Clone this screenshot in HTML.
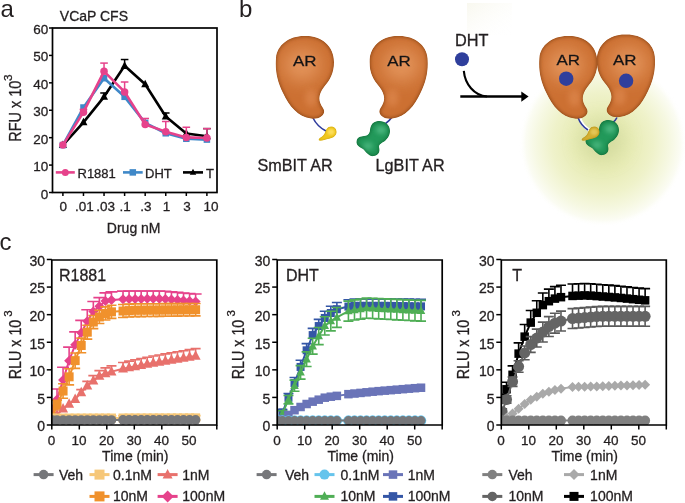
<!DOCTYPE html><html><head><meta charset="utf-8"><style>html,body{margin:0;padding:0;background:#fff;}svg{display:block;will-change:transform;}text{font-family:"Liberation Sans",sans-serif;stroke:#231f20;stroke-width:0.3px;}</style></head><body>
<svg width="685" height="503" viewBox="0 0 685 503">
<defs><radialGradient id="glow" cx="603" cy="143" r="84" gradientUnits="userSpaceOnUse"><stop offset="0" stop-color="#e0e4a4"/><stop offset="0.35" stop-color="#e8ecb6"/><stop offset="0.6" stop-color="#eff2ca"/><stop offset="0.8" stop-color="#f6f8e2"/><stop offset="0.92" stop-color="#fbfcf3"/><stop offset="1" stop-color="#ffffff" stop-opacity="0"/></radialGradient><radialGradient id="arg" cx="0.45" cy="0.35" r="0.7"><stop offset="0" stop-color="#f0a56e"/><stop offset="0.45" stop-color="#e08545"/><stop offset="0.85" stop-color="#c86a2c"/><stop offset="1" stop-color="#a9541c"/></radialGradient><radialGradient id="grg" cx="0.5" cy="0.45" r="0.6"><stop offset="0" stop-color="#5cc08a"/><stop offset="0.6" stop-color="#2e9e5e"/><stop offset="1" stop-color="#16703c"/></radialGradient><radialGradient id="yeg" cx="0.55" cy="0.4" r="0.65"><stop offset="0" stop-color="#ffe35a"/><stop offset="0.7" stop-color="#e8be1e"/><stop offset="1" stop-color="#b88c10"/></radialGradient></defs>
<text x="0.50" y="17.00" font-size="24" text-anchor="start" fill="#231f20" style="stroke-width:0">a</text>
<text x="239.00" y="17.00" font-size="24" text-anchor="start" fill="#231f20" style="stroke-width:0">b</text>
<text x="-0.50" y="250.20" font-size="24" text-anchor="start" fill="#231f20" style="stroke-width:0">c</text>
<rect x="52.5" y="28.0" width="164.5" height="164.5" fill="none" stroke="#000" stroke-width="1.7"/>
<line x1="49.0" y1="192.50" x2="52.5" y2="192.50" stroke="#000" stroke-width="1.5"/>
<text x="48.20" y="198.50" font-size="13.5" text-anchor="end" fill="#231f20" >0</text>
<line x1="49.0" y1="165.08" x2="52.5" y2="165.08" stroke="#000" stroke-width="1.5"/>
<text x="48.20" y="171.08" font-size="13.5" text-anchor="end" fill="#231f20" >10</text>
<line x1="49.0" y1="137.67" x2="52.5" y2="137.67" stroke="#000" stroke-width="1.5"/>
<text x="48.20" y="143.67" font-size="13.5" text-anchor="end" fill="#231f20" >20</text>
<line x1="49.0" y1="110.25" x2="52.5" y2="110.25" stroke="#000" stroke-width="1.5"/>
<text x="48.20" y="116.25" font-size="13.5" text-anchor="end" fill="#231f20" >30</text>
<line x1="49.0" y1="82.83" x2="52.5" y2="82.83" stroke="#000" stroke-width="1.5"/>
<text x="48.20" y="88.83" font-size="13.5" text-anchor="end" fill="#231f20" >40</text>
<line x1="49.0" y1="55.42" x2="52.5" y2="55.42" stroke="#000" stroke-width="1.5"/>
<text x="48.20" y="61.42" font-size="13.5" text-anchor="end" fill="#231f20" >50</text>
<line x1="49.0" y1="28.00" x2="52.5" y2="28.00" stroke="#000" stroke-width="1.5"/>
<text x="48.20" y="34.00" font-size="13.5" text-anchor="end" fill="#231f20" >60</text>
<line x1="62.90" y1="192.5" x2="62.90" y2="196.0" stroke="#000" stroke-width="1.5"/>
<text x="63.20" y="210.50" font-size="13.5" text-anchor="middle" fill="#231f20" >0</text>
<line x1="83.47" y1="192.5" x2="83.47" y2="196.0" stroke="#000" stroke-width="1.5"/>
<text x="84.40" y="210.50" font-size="13.5" text-anchor="middle" fill="#231f20" >.01</text>
<line x1="104.04" y1="192.5" x2="104.04" y2="196.0" stroke="#000" stroke-width="1.5"/>
<text x="105.70" y="210.50" font-size="13.5" text-anchor="middle" fill="#231f20" >.03</text>
<line x1="124.61" y1="192.5" x2="124.61" y2="196.0" stroke="#000" stroke-width="1.5"/>
<text x="125.10" y="210.50" font-size="13.5" text-anchor="middle" fill="#231f20" >.1</text>
<line x1="145.18" y1="192.5" x2="145.18" y2="196.0" stroke="#000" stroke-width="1.5"/>
<text x="145.80" y="210.50" font-size="13.5" text-anchor="middle" fill="#231f20" >.3</text>
<line x1="165.75" y1="192.5" x2="165.75" y2="196.0" stroke="#000" stroke-width="1.5"/>
<text x="166.50" y="210.50" font-size="13.5" text-anchor="middle" fill="#231f20" >1</text>
<line x1="186.32" y1="192.5" x2="186.32" y2="196.0" stroke="#000" stroke-width="1.5"/>
<text x="186.90" y="210.50" font-size="13.5" text-anchor="middle" fill="#231f20" >3</text>
<line x1="206.89" y1="192.5" x2="206.89" y2="196.0" stroke="#000" stroke-width="1.5"/>
<text x="211.00" y="210.50" font-size="13.5" text-anchor="middle" fill="#231f20" >10</text>
<text x="133.70" y="233.30" font-size="14" text-anchor="middle" fill="#231f20" >Drug nM</text>
<text x="59.80" y="21.20" font-size="14" text-anchor="start" fill="#231f20" >VCaP CFS</text>
<text transform="translate(21,141.8) rotate(-90)" x="0" y="0" font-size="16.5" fill="#231f20" textLength="61" lengthAdjust="spacingAndGlyphs">RFU x 10</text>
<text transform="translate(11.9,80.9) rotate(-90)" x="0" y="0" font-size="11.8" fill="#231f20">3</text>
<line x1="104.04" y1="96.82" x2="104.04" y2="92.98" stroke="#000" stroke-width="1.5"/>
<line x1="100.24" y1="92.98" x2="107.84" y2="92.98" stroke="#000" stroke-width="1.5"/>
<line x1="124.61" y1="65.83" x2="124.61" y2="59.53" stroke="#000" stroke-width="1.5"/>
<line x1="120.81" y1="59.53" x2="128.41" y2="59.53" stroke="#000" stroke-width="1.5"/>
<line x1="165.75" y1="116.56" x2="165.75" y2="112.99" stroke="#000" stroke-width="1.5"/>
<line x1="161.95" y1="112.99" x2="169.55" y2="112.99" stroke="#000" stroke-width="1.5"/>
<line x1="206.89" y1="136.30" x2="206.89" y2="128.62" stroke="#000" stroke-width="1.5"/>
<line x1="203.09" y1="128.62" x2="210.69" y2="128.62" stroke="#000" stroke-width="1.5"/>
<polyline points="62.90,145.07 83.47,122.31 104.04,96.82 124.61,65.83 145.18,84.20 165.75,116.56 186.32,133.55 206.89,136.30" fill="none" stroke="#000" stroke-width="2.6" stroke-linejoin="round"/>
<path d="M62.90,140.51L66.90,148.11L58.90,148.11Z" fill="#000"/>
<path d="M83.47,117.75L87.47,125.35L79.47,125.35Z" fill="#000"/>
<path d="M104.04,92.26L108.04,99.86L100.04,99.86Z" fill="#000"/>
<path d="M124.61,61.27L128.61,68.88L120.61,68.88Z" fill="#000"/>
<path d="M145.18,79.64L149.18,87.24L141.18,87.24Z" fill="#000"/>
<path d="M165.75,112.00L169.75,119.60L161.75,119.60Z" fill="#000"/>
<path d="M186.32,128.99L190.32,136.59L182.32,136.59Z" fill="#000"/>
<path d="M206.89,131.74L210.89,139.34L202.89,139.34Z" fill="#000"/>
<polyline points="62.90,145.07 83.47,107.51 104.04,78.17 124.61,96.82 145.18,122.86 165.75,133.28 186.32,138.76 206.89,139.59" fill="none" stroke="#3f88c8" stroke-width="2.6" stroke-linejoin="round"/>
<rect x="59.65" y="141.82" width="6.50" height="6.50" fill="#3f88c8"/>
<rect x="80.22" y="104.26" width="6.50" height="6.50" fill="#3f88c8"/>
<rect x="100.79" y="74.92" width="6.50" height="6.50" fill="#3f88c8"/>
<rect x="121.36" y="93.57" width="6.50" height="6.50" fill="#3f88c8"/>
<rect x="141.93" y="119.61" width="6.50" height="6.50" fill="#3f88c8"/>
<rect x="162.50" y="130.03" width="6.50" height="6.50" fill="#3f88c8"/>
<rect x="183.07" y="135.51" width="6.50" height="6.50" fill="#3f88c8"/>
<rect x="203.64" y="136.34" width="6.50" height="6.50" fill="#3f88c8"/>
<line x1="83.47" y1="112.17" x2="83.47" y2="109.43" stroke="#e6428b" stroke-width="1.5"/>
<line x1="79.67" y1="109.43" x2="87.27" y2="109.43" stroke="#e6428b" stroke-width="1.5"/>
<line x1="104.04" y1="71.32" x2="104.04" y2="63.09" stroke="#e6428b" stroke-width="1.5"/>
<line x1="100.24" y1="63.09" x2="107.84" y2="63.09" stroke="#e6428b" stroke-width="1.5"/>
<line x1="124.61" y1="91.88" x2="124.61" y2="82.01" stroke="#e6428b" stroke-width="1.5"/>
<line x1="120.81" y1="82.01" x2="128.41" y2="82.01" stroke="#e6428b" stroke-width="1.5"/>
<line x1="145.18" y1="124.51" x2="145.18" y2="118.47" stroke="#e6428b" stroke-width="1.5"/>
<line x1="141.38" y1="118.47" x2="148.98" y2="118.47" stroke="#e6428b" stroke-width="1.5"/>
<line x1="165.75" y1="131.63" x2="165.75" y2="121.49" stroke="#e6428b" stroke-width="1.5"/>
<line x1="161.95" y1="121.49" x2="169.55" y2="121.49" stroke="#e6428b" stroke-width="1.5"/>
<line x1="186.32" y1="137.39" x2="186.32" y2="127.25" stroke="#e6428b" stroke-width="1.5"/>
<line x1="182.52" y1="127.25" x2="190.12" y2="127.25" stroke="#e6428b" stroke-width="1.5"/>
<line x1="206.89" y1="137.94" x2="206.89" y2="128.62" stroke="#e6428b" stroke-width="1.5"/>
<line x1="203.09" y1="128.62" x2="210.69" y2="128.62" stroke="#e6428b" stroke-width="1.5"/>
<polyline points="62.90,145.07 83.47,112.17 104.04,71.32 124.61,91.88 145.18,124.51 165.75,131.63 186.32,137.39 206.89,137.94" fill="none" stroke="#e6428b" stroke-width="2.6" stroke-linejoin="round"/>
<circle cx="62.90" cy="145.07" r="3.75" fill="#e6428b"/>
<circle cx="83.47" cy="112.17" r="3.75" fill="#e6428b"/>
<circle cx="104.04" cy="71.32" r="3.75" fill="#e6428b"/>
<circle cx="124.61" cy="91.88" r="3.75" fill="#e6428b"/>
<circle cx="145.18" cy="124.51" r="3.75" fill="#e6428b"/>
<circle cx="165.75" cy="131.63" r="3.75" fill="#e6428b"/>
<circle cx="186.32" cy="137.39" r="3.75" fill="#e6428b"/>
<circle cx="206.89" cy="137.94" r="3.75" fill="#e6428b"/>
<line x1="55.8" y1="172.4" x2="74.8" y2="172.4" stroke="#e6428b" stroke-width="2.6"/>
<circle cx="65.30" cy="172.40" r="3.50" fill="#e6428b"/>
<text x="77.50" y="177.60" font-size="13" text-anchor="start" fill="#231f20" >R1881</text>
<line x1="123" y1="172.4" x2="142.7" y2="172.4" stroke="#3f88c8" stroke-width="2.6"/>
<rect x="129.55" y="169.15" width="6.50" height="6.50" fill="#3f88c8"/>
<text x="145.00" y="177.60" font-size="13" text-anchor="start" fill="#231f20" >DHT</text>
<line x1="183" y1="172.4" x2="203" y2="172.4" stroke="#000" stroke-width="2.6"/>
<path d="M193.00,168.69L196.25,174.87L189.75,174.87Z" fill="#000"/>
<text x="206.00" y="177.60" font-size="13" text-anchor="start" fill="#231f20" >T</text>
<defs><filter id="bl3" x="-30%" y="-30%" width="160%" height="160%"><feGaussianBlur stdDeviation="3.2"/></filter><filter id="bl2" x="-30%" y="-30%" width="160%" height="160%"><feGaussianBlur stdDeviation="2"/></filter><filter id="bl1" x="-30%" y="-30%" width="160%" height="160%"><feGaussianBlur stdDeviation="1.3"/></filter><filter id="bl6" x="-50%" y="-50%" width="200%" height="200%"><feGaussianBlur stdDeviation="9"/></filter></defs>
<rect x="440" y="0" width="245" height="250" fill="url(#glow)"/>
<defs><linearGradient id="fq" x1="0" y1="0" x2="1" y2="1"><stop offset="0" stop-color="#f4f3e4"/><stop offset="1" stop-color="#ffffff" stop-opacity="0"/></linearGradient></defs>
<rect x="467" y="3" width="45" height="32" fill="url(#fq)" opacity="0.6"/>
<ellipse cx="602" cy="140" rx="22" ry="20" fill="#c9d49a" opacity="0.55" filter="url(#bl6)"/>
<defs><clipPath id="arclip"><path d="M304,36 C320,35 334,45 334,62 C334,73 330,80 324,87 C318,95 318,101 323,108 C327,114 320,120 311,118.5 C298,117 289,106 283,93 C277,81 275,70 276,58 C277,45 289,36 304,36 Z"/></clipPath></defs>
<defs><clipPath id="grclip"><path d="M376.8,121.2 C384,120 390,124 390,131 C390,136 387,139 385,141 C382,143 379,144 379,147 C380,150 380,155 374,156 C369,157 366,152 363,149 C359,147 356,145 356.5,141.5 C357,137 360,136.5 364,136 C368,135.5 369.5,134 370,130 C370.5,126 372,122 376.8,121.2 Z"/></clipPath><clipPath id="yeclip"><path d="M331,126.5 C335.5,126.5 337,130 336.5,133 C336,136.5 332,138.5 328,139 C325,139.5 322,141.5 319,140.5 C317.5,139.5 320,137.5 322,136.5 C324,135.5 325,132 326,130 C327,127.5 329,126.5 331,126.5 Z"/></clipPath></defs>
<path d="M313,118 C316,124 320,128 326,131" fill="none" stroke="#2e3b9c" stroke-width="1.6"/>
<g transform="translate(0,0)"><g clip-path="url(#arclip)"><path d="M304,36 C320,35 334,45 334,62 C334,73 330,80 324,87 C318,95 318,101 323,108 C327,114 320,120 311,118.5 C298,117 289,106 283,93 C277,81 275,70 276,58 C277,45 289,36 304,36 Z" fill="#743608"/><path d="M304,36 C320,35 334,45 334,62 C334,73 330,80 324,87 C318,95 318,101 323,108 C327,114 320,120 311,118.5 C298,117 289,106 283,93 C277,81 275,70 276,58 C277,45 289,36 304,36 Z" fill="#cc7032" filter="url(#bl2)"/><ellipse cx="302" cy="65" rx="19" ry="17" fill="#eda46e" opacity="0.7" filter="url(#bl6)"/><ellipse cx="311" cy="98" rx="6" ry="9" fill="#e49058" opacity="0.55" filter="url(#bl3)"/></g></g>
<g transform="translate(0,0)"><g clip-path="url(#yeclip)"><path d="M331,126.5 C335.5,126.5 337,130 336.5,133 C336,136.5 332,138.5 328,139 C325,139.5 322,141.5 319,140.5 C317.5,139.5 320,137.5 322,136.5 C324,135.5 325,132 326,130 C327,127.5 329,126.5 331,126.5 Z" fill="#c09a12"/><path d="M331,126.5 C335.5,126.5 337,130 336.5,133 C336,136.5 332,138.5 328,139 C325,139.5 322,141.5 319,140.5 C317.5,139.5 320,137.5 322,136.5 C324,135.5 325,132 326,130 C327,127.5 329,126.5 331,126.5 Z" fill="#f2c81e" filter="url(#bl1)"/><ellipse cx="331" cy="132" rx="3.5" ry="3" fill="#ffe46a" opacity="0.8" filter="url(#bl1)"/></g></g>
<path d="M392,117 C390,120 388,122 385,124" fill="none" stroke="#2e3b9c" stroke-width="1.6"/>
<g transform="translate(703.5,0) scale(-1,1)"><g clip-path="url(#arclip)"><path d="M304,36 C320,35 334,45 334,62 C334,73 330,80 324,87 C318,95 318,101 323,108 C327,114 320,120 311,118.5 C298,117 289,106 283,93 C277,81 275,70 276,58 C277,45 289,36 304,36 Z" fill="#743608"/><path d="M304,36 C320,35 334,45 334,62 C334,73 330,80 324,87 C318,95 318,101 323,108 C327,114 320,120 311,118.5 C298,117 289,106 283,93 C277,81 275,70 276,58 C277,45 289,36 304,36 Z" fill="#cc7032" filter="url(#bl2)"/><ellipse cx="302" cy="65" rx="19" ry="17" fill="#eda46e" opacity="0.7" filter="url(#bl6)"/><ellipse cx="311" cy="98" rx="6" ry="9" fill="#e49058" opacity="0.55" filter="url(#bl3)"/></g></g>
<g transform="translate(0,0)"><g clip-path="url(#grclip)"><path d="M376.8,121.2 C384,120 390,124 390,131 C390,136 387,139 385,141 C382,143 379,144 379,147 C380,150 380,155 374,156 C369,157 366,152 363,149 C359,147 356,145 356.5,141.5 C357,137 360,136.5 364,136 C368,135.5 369.5,134 370,130 C370.5,126 372,122 376.8,121.2 Z" fill="#0b5f2c"/><path d="M376.8,121.2 C384,120 390,124 390,131 C390,136 387,139 385,141 C382,143 379,144 379,147 C380,150 380,155 374,156 C369,157 366,152 363,149 C359,147 356,145 356.5,141.5 C357,137 360,136.5 364,136 C368,135.5 369.5,134 370,130 C370.5,126 372,122 376.8,121.2 Z" fill="#23995a" filter="url(#bl2)"/><ellipse cx="381" cy="130" rx="5" ry="4" fill="#5cc28e" opacity="0.7" filter="url(#bl2)"/><ellipse cx="368" cy="146" rx="5" ry="4" fill="#5cc28e" opacity="0.6" filter="url(#bl2)"/></g></g>
<text x="292.90" y="66.3" font-size="15" fill="#111" textLength="23.5" lengthAdjust="spacingAndGlyphs">AR</text>
<text x="387.20" y="66.3" font-size="15" fill="#111" textLength="23.5" lengthAdjust="spacingAndGlyphs">AR</text>
<text x="257.50" y="171.40" font-size="16.2" text-anchor="start" fill="#231f20" >SmBIT AR</text>
<text x="375.60" y="171.40" font-size="16.2" text-anchor="start" fill="#231f20" >LgBIT AR</text>
<text x="455.00" y="46.40" font-size="16.3" text-anchor="start" fill="#231f20" >DHT</text>
<circle cx="462" cy="59.2" r="7" fill="#2f3f9c"/>
<path d="M463.8,70.8 C465,84 474,95.5 487,96.5" fill="none" stroke="#000" stroke-width="2.1"/>
<line x1="460.3" y1="96.5" x2="523" y2="96.5" stroke="#000" stroke-width="2.4"/>
<path d="M521.3,91.5 L528.6,96.6 L521.3,101.7 Z" fill="#000"/>
<path d="M579.5,117.5 C581,123 584,127 589,130" fill="none" stroke="#fff" stroke-width="3.2"/>
<path d="M578,117.5 C580,123 583,127 588,130" fill="none" stroke="#2e3b9c" stroke-width="1.6"/>
<path d="M617,117.5 C616,120 614,122 611,124" fill="none" stroke="#2e3b9c" stroke-width="1.6"/>
<g transform="translate(263.4,0)"><g clip-path="url(#arclip)"><path d="M304,36 C320,35 334,45 334,62 C334,73 330,80 324,87 C318,95 318,101 323,108 C327,114 320,120 311,118.5 C298,117 289,106 283,93 C277,81 275,70 276,58 C277,45 289,36 304,36 Z" fill="#743608"/><path d="M304,36 C320,35 334,45 334,62 C334,73 330,80 324,87 C318,95 318,101 323,108 C327,114 320,120 311,118.5 C298,117 289,106 283,93 C277,81 275,70 276,58 C277,45 289,36 304,36 Z" fill="#cc7032" filter="url(#bl2)"/><ellipse cx="302" cy="65" rx="19" ry="17" fill="#eda46e" opacity="0.7" filter="url(#bl6)"/><ellipse cx="311" cy="98" rx="6" ry="9" fill="#e49058" opacity="0.55" filter="url(#bl3)"/></g></g>
<g transform="translate(930.8,-1.5) scale(-1,1)"><g clip-path="url(#arclip)"><path d="M304,36 C320,35 334,45 334,62 C334,73 330,80 324,87 C318,95 318,101 323,108 C327,114 320,120 311,118.5 C298,117 289,106 283,93 C277,81 275,70 276,58 C277,45 289,36 304,36 Z" fill="#743608"/><path d="M304,36 C320,35 334,45 334,62 C334,73 330,80 324,87 C318,95 318,101 323,108 C327,114 320,120 311,118.5 C298,117 289,106 283,93 C277,81 275,70 276,58 C277,45 289,36 304,36 Z" fill="#cc7032" filter="url(#bl2)"/><ellipse cx="302" cy="65" rx="19" ry="17" fill="#eda46e" opacity="0.7" filter="url(#bl6)"/><ellipse cx="311" cy="98" rx="6" ry="9" fill="#e49058" opacity="0.55" filter="url(#bl3)"/></g></g>
<g transform="translate(229,-1)"><g clip-path="url(#grclip)"><path d="M376.8,121.2 C384,120 390,124 390,131 C390,136 387,139 385,141 C382,143 379,144 379,147 C380,150 380,155 374,156 C369,157 366,152 363,149 C359,147 356,145 356.5,141.5 C357,137 360,136.5 364,136 C368,135.5 369.5,134 370,130 C370.5,126 372,122 376.8,121.2 Z" fill="#0b5f2c"/><path d="M376.8,121.2 C384,120 390,124 390,131 C390,136 387,139 385,141 C382,143 379,144 379,147 C380,150 380,155 374,156 C369,157 366,152 363,149 C359,147 356,145 356.5,141.5 C357,137 360,136.5 364,136 C368,135.5 369.5,134 370,130 C370.5,126 372,122 376.8,121.2 Z" fill="#23995a" filter="url(#bl2)"/><ellipse cx="381" cy="130" rx="5" ry="4" fill="#5cc28e" opacity="0.7" filter="url(#bl2)"/><ellipse cx="368" cy="146" rx="5" ry="4" fill="#5cc28e" opacity="0.6" filter="url(#bl2)"/></g></g>
<g transform="translate(263,0)"><g clip-path="url(#yeclip)"><path d="M331,126.5 C335.5,126.5 337,130 336.5,133 C336,136.5 332,138.5 328,139 C325,139.5 322,141.5 319,140.5 C317.5,139.5 320,137.5 322,136.5 C324,135.5 325,132 326,130 C327,127.5 329,126.5 331,126.5 Z" fill="#a88410"/><path d="M331,126.5 C335.5,126.5 337,130 336.5,133 C336,136.5 332,138.5 328,139 C325,139.5 322,141.5 319,140.5 C317.5,139.5 320,137.5 322,136.5 C324,135.5 325,132 326,130 C327,127.5 329,126.5 331,126.5 Z" fill="#d4b030" filter="url(#bl1)"/><ellipse cx="331" cy="132" rx="3.5" ry="3" fill="#e8cc60" opacity="0.8" filter="url(#bl1)"/></g></g>
<text x="556.60" y="64.8" font-size="15" fill="#111" textLength="23.5" lengthAdjust="spacingAndGlyphs">AR</text>
<text x="613.00" y="64.8" font-size="15" fill="#111" textLength="23.5" lengthAdjust="spacingAndGlyphs">AR</text>
<circle cx="566.2" cy="78.7" r="7.2" fill="#2f3f9c"/>
<circle cx="626.1" cy="80.8" r="7.2" fill="#2f3f9c"/>
<clipPath id="clip51"><rect x="51.8" y="248.0" width="169.0" height="177.0"/></clipPath>
<g clip-path="url(#clip51)">
<line x1="52.62" y1="405.36" x2="52.62" y2="413.97" stroke="#e6428b" stroke-width="1.6"/>
<line x1="46.62" y1="405.36" x2="58.62" y2="405.36" stroke="#e6428b" stroke-width="1.6"/>
<line x1="57.02" y1="389.04" x2="57.02" y2="399.41" stroke="#e6428b" stroke-width="1.6"/>
<line x1="51.02" y1="389.04" x2="63.02" y2="389.04" stroke="#e6428b" stroke-width="1.6"/>
<line x1="63.07" y1="367.23" x2="63.07" y2="380.03" stroke="#e6428b" stroke-width="1.6"/>
<line x1="57.07" y1="367.23" x2="69.07" y2="367.23" stroke="#e6428b" stroke-width="1.6"/>
<line x1="69.12" y1="347.17" x2="69.12" y2="360.65" stroke="#e6428b" stroke-width="1.6"/>
<line x1="63.12" y1="347.17" x2="75.12" y2="347.17" stroke="#e6428b" stroke-width="1.6"/>
<line x1="75.17" y1="331.84" x2="75.17" y2="344.80" stroke="#e6428b" stroke-width="1.6"/>
<line x1="69.17" y1="331.84" x2="81.17" y2="331.84" stroke="#e6428b" stroke-width="1.6"/>
<line x1="81.22" y1="320.38" x2="81.22" y2="332.83" stroke="#e6428b" stroke-width="1.6"/>
<line x1="75.22" y1="320.38" x2="87.22" y2="320.38" stroke="#e6428b" stroke-width="1.6"/>
<line x1="87.28" y1="309.74" x2="87.28" y2="321.30" stroke="#e6428b" stroke-width="1.6"/>
<line x1="81.28" y1="309.74" x2="93.28" y2="309.74" stroke="#e6428b" stroke-width="1.6"/>
<line x1="93.33" y1="301.43" x2="93.33" y2="311.58" stroke="#e6428b" stroke-width="1.6"/>
<line x1="87.33" y1="301.43" x2="99.33" y2="301.43" stroke="#e6428b" stroke-width="1.6"/>
<line x1="99.38" y1="297.62" x2="99.38" y2="306.34" stroke="#e6428b" stroke-width="1.6"/>
<line x1="93.38" y1="297.62" x2="105.38" y2="297.62" stroke="#e6428b" stroke-width="1.6"/>
<line x1="105.42" y1="292.87" x2="105.42" y2="301.11" stroke="#e6428b" stroke-width="1.6"/>
<line x1="99.42" y1="292.87" x2="111.42" y2="292.87" stroke="#e6428b" stroke-width="1.6"/>
<line x1="111.47" y1="291.90" x2="111.47" y2="300.08" stroke="#e6428b" stroke-width="1.6"/>
<line x1="105.47" y1="291.90" x2="117.47" y2="291.90" stroke="#e6428b" stroke-width="1.6"/>
<line x1="123.02" y1="291.08" x2="123.02" y2="299.15" stroke="#e6428b" stroke-width="1.6"/>
<line x1="117.02" y1="291.08" x2="129.02" y2="291.08" stroke="#e6428b" stroke-width="1.6"/>
<line x1="129.07" y1="291.06" x2="129.07" y2="299.07" stroke="#e6428b" stroke-width="1.6"/>
<line x1="123.07" y1="291.06" x2="135.07" y2="291.06" stroke="#e6428b" stroke-width="1.6"/>
<line x1="135.12" y1="291.04" x2="135.12" y2="299.00" stroke="#e6428b" stroke-width="1.6"/>
<line x1="129.12" y1="291.04" x2="141.12" y2="291.04" stroke="#e6428b" stroke-width="1.6"/>
<line x1="141.18" y1="291.02" x2="141.18" y2="298.92" stroke="#e6428b" stroke-width="1.6"/>
<line x1="135.18" y1="291.02" x2="147.18" y2="291.02" stroke="#e6428b" stroke-width="1.6"/>
<line x1="147.23" y1="291.01" x2="147.23" y2="298.84" stroke="#e6428b" stroke-width="1.6"/>
<line x1="141.23" y1="291.01" x2="153.23" y2="291.01" stroke="#e6428b" stroke-width="1.6"/>
<line x1="153.27" y1="290.99" x2="153.27" y2="298.77" stroke="#e6428b" stroke-width="1.6"/>
<line x1="147.27" y1="290.99" x2="159.27" y2="290.99" stroke="#e6428b" stroke-width="1.6"/>
<line x1="159.32" y1="290.97" x2="159.32" y2="298.69" stroke="#e6428b" stroke-width="1.6"/>
<line x1="153.32" y1="290.97" x2="165.32" y2="290.97" stroke="#e6428b" stroke-width="1.6"/>
<line x1="165.38" y1="291.30" x2="165.38" y2="298.96" stroke="#e6428b" stroke-width="1.6"/>
<line x1="159.38" y1="291.30" x2="171.38" y2="291.30" stroke="#e6428b" stroke-width="1.6"/>
<line x1="171.43" y1="291.86" x2="171.43" y2="299.47" stroke="#e6428b" stroke-width="1.6"/>
<line x1="165.43" y1="291.86" x2="177.43" y2="291.86" stroke="#e6428b" stroke-width="1.6"/>
<line x1="177.48" y1="292.42" x2="177.48" y2="299.97" stroke="#e6428b" stroke-width="1.6"/>
<line x1="171.48" y1="292.42" x2="183.48" y2="292.42" stroke="#e6428b" stroke-width="1.6"/>
<line x1="183.52" y1="292.99" x2="183.52" y2="300.48" stroke="#e6428b" stroke-width="1.6"/>
<line x1="177.52" y1="292.99" x2="189.52" y2="292.99" stroke="#e6428b" stroke-width="1.6"/>
<line x1="189.57" y1="293.55" x2="189.57" y2="300.98" stroke="#e6428b" stroke-width="1.6"/>
<line x1="183.57" y1="293.55" x2="195.57" y2="293.55" stroke="#e6428b" stroke-width="1.6"/>
<line x1="195.62" y1="294.07" x2="195.62" y2="301.44" stroke="#e6428b" stroke-width="1.6"/>
<line x1="189.62" y1="294.07" x2="201.62" y2="294.07" stroke="#e6428b" stroke-width="1.6"/>
<polyline points="52.62,413.97 57.02,399.41 63.07,380.03 69.12,360.65 75.17,344.80 81.22,332.83 87.28,321.30 93.33,311.58 99.38,306.34 105.42,301.11 111.47,300.08 123.02,299.15 129.07,299.07 135.12,299.00 141.18,298.92 147.23,298.84 153.27,298.77 159.32,298.69 165.38,298.96 171.43,299.47 177.48,299.97 183.52,300.48 189.57,300.98 195.62,301.44" fill="none" stroke="#e6428b" stroke-width="2"/>
<path d="M52.62,408.97L57.62,413.97L52.62,418.97L47.62,413.97Z" fill="#e6428b"/>
<path d="M57.02,394.41L62.02,399.41L57.02,404.41L52.02,399.41Z" fill="#e6428b"/>
<path d="M63.07,375.03L68.07,380.03L63.07,385.03L58.07,380.03Z" fill="#e6428b"/>
<path d="M69.12,355.65L74.12,360.65L69.12,365.65L64.12,360.65Z" fill="#e6428b"/>
<path d="M75.17,339.80L80.17,344.80L75.17,349.80L70.17,344.80Z" fill="#e6428b"/>
<path d="M81.22,327.83L86.22,332.83L81.22,337.83L76.22,332.83Z" fill="#e6428b"/>
<path d="M87.28,316.30L92.28,321.30L87.28,326.30L82.28,321.30Z" fill="#e6428b"/>
<path d="M93.33,306.58L98.33,311.58L93.33,316.58L88.33,311.58Z" fill="#e6428b"/>
<path d="M99.38,301.34L104.38,306.34L99.38,311.34L94.38,306.34Z" fill="#e6428b"/>
<path d="M105.42,296.11L110.42,301.11L105.42,306.11L100.42,301.11Z" fill="#e6428b"/>
<path d="M111.47,295.08L116.47,300.08L111.47,305.08L106.47,300.08Z" fill="#e6428b"/>
<path d="M123.02,294.15L128.02,299.15L123.02,304.15L118.02,299.15Z" fill="#e6428b"/>
<path d="M129.07,294.07L134.07,299.07L129.07,304.07L124.07,299.07Z" fill="#e6428b"/>
<path d="M135.12,294.00L140.12,299.00L135.12,304.00L130.12,299.00Z" fill="#e6428b"/>
<path d="M141.18,293.92L146.18,298.92L141.18,303.92L136.18,298.92Z" fill="#e6428b"/>
<path d="M147.23,293.84L152.23,298.84L147.23,303.84L142.23,298.84Z" fill="#e6428b"/>
<path d="M153.27,293.77L158.27,298.77L153.27,303.77L148.27,298.77Z" fill="#e6428b"/>
<path d="M159.32,293.69L164.32,298.69L159.32,303.69L154.32,298.69Z" fill="#e6428b"/>
<path d="M165.38,293.96L170.38,298.96L165.38,303.96L160.38,298.96Z" fill="#e6428b"/>
<path d="M171.43,294.47L176.43,299.47L171.43,304.47L166.43,299.47Z" fill="#e6428b"/>
<path d="M177.48,294.97L182.48,299.97L177.48,304.97L172.48,299.97Z" fill="#e6428b"/>
<path d="M183.52,295.48L188.52,300.48L183.52,305.48L178.52,300.48Z" fill="#e6428b"/>
<path d="M189.57,295.98L194.57,300.98L189.57,305.98L184.57,300.98Z" fill="#e6428b"/>
<path d="M195.62,296.44L200.62,301.44L195.62,306.44L190.62,301.44Z" fill="#e6428b"/>
<line x1="52.62" y1="412.93" x2="52.62" y2="419.10" stroke="#f0912c" stroke-width="1.6"/>
<line x1="47.62" y1="419.10" x2="57.62" y2="419.10" stroke="#f0912c" stroke-width="1.6"/>
<line x1="47.62" y1="412.93" x2="57.62" y2="412.93" stroke="#f0912c" stroke-width="1.6"/>
<line x1="57.02" y1="400.30" x2="57.02" y2="410.01" stroke="#f0912c" stroke-width="1.6"/>
<line x1="52.02" y1="410.01" x2="62.02" y2="410.01" stroke="#f0912c" stroke-width="1.6"/>
<line x1="52.02" y1="400.30" x2="62.02" y2="400.30" stroke="#f0912c" stroke-width="1.6"/>
<line x1="63.07" y1="383.75" x2="63.07" y2="398.32" stroke="#f0912c" stroke-width="1.6"/>
<line x1="58.07" y1="398.32" x2="68.07" y2="398.32" stroke="#f0912c" stroke-width="1.6"/>
<line x1="58.07" y1="383.75" x2="68.07" y2="383.75" stroke="#f0912c" stroke-width="1.6"/>
<line x1="69.12" y1="368.76" x2="69.12" y2="384.88" stroke="#f0912c" stroke-width="1.6"/>
<line x1="64.12" y1="384.88" x2="74.12" y2="384.88" stroke="#f0912c" stroke-width="1.6"/>
<line x1="64.12" y1="368.76" x2="74.12" y2="368.76" stroke="#f0912c" stroke-width="1.6"/>
<line x1="75.17" y1="352.94" x2="75.17" y2="368.33" stroke="#f0912c" stroke-width="1.6"/>
<line x1="70.17" y1="368.33" x2="80.17" y2="368.33" stroke="#f0912c" stroke-width="1.6"/>
<line x1="70.17" y1="352.94" x2="80.17" y2="352.94" stroke="#f0912c" stroke-width="1.6"/>
<line x1="81.22" y1="338.16" x2="81.22" y2="352.82" stroke="#f0912c" stroke-width="1.6"/>
<line x1="76.22" y1="352.82" x2="86.22" y2="352.82" stroke="#f0912c" stroke-width="1.6"/>
<line x1="76.22" y1="338.16" x2="86.22" y2="338.16" stroke="#f0912c" stroke-width="1.6"/>
<line x1="87.28" y1="325.23" x2="87.28" y2="339.16" stroke="#f0912c" stroke-width="1.6"/>
<line x1="82.28" y1="339.16" x2="92.28" y2="339.16" stroke="#f0912c" stroke-width="1.6"/>
<line x1="82.28" y1="325.23" x2="92.28" y2="325.23" stroke="#f0912c" stroke-width="1.6"/>
<line x1="93.33" y1="315.43" x2="93.33" y2="328.67" stroke="#f0912c" stroke-width="1.6"/>
<line x1="88.33" y1="328.67" x2="98.33" y2="328.67" stroke="#f0912c" stroke-width="1.6"/>
<line x1="88.33" y1="315.43" x2="98.33" y2="315.43" stroke="#f0912c" stroke-width="1.6"/>
<line x1="99.38" y1="310.37" x2="99.38" y2="323.56" stroke="#f0912c" stroke-width="1.6"/>
<line x1="94.38" y1="323.56" x2="104.38" y2="323.56" stroke="#f0912c" stroke-width="1.6"/>
<line x1="94.38" y1="310.37" x2="104.38" y2="310.37" stroke="#f0912c" stroke-width="1.6"/>
<line x1="105.42" y1="306.91" x2="105.42" y2="320.04" stroke="#f0912c" stroke-width="1.6"/>
<line x1="100.42" y1="320.04" x2="110.42" y2="320.04" stroke="#f0912c" stroke-width="1.6"/>
<line x1="100.42" y1="306.91" x2="110.42" y2="306.91" stroke="#f0912c" stroke-width="1.6"/>
<line x1="111.47" y1="305.31" x2="111.47" y2="318.38" stroke="#f0912c" stroke-width="1.6"/>
<line x1="106.47" y1="318.38" x2="116.47" y2="318.38" stroke="#f0912c" stroke-width="1.6"/>
<line x1="106.47" y1="305.31" x2="116.47" y2="305.31" stroke="#f0912c" stroke-width="1.6"/>
<line x1="123.02" y1="304.55" x2="123.02" y2="317.52" stroke="#f0912c" stroke-width="1.6"/>
<line x1="118.02" y1="317.52" x2="128.02" y2="317.52" stroke="#f0912c" stroke-width="1.6"/>
<line x1="118.02" y1="304.55" x2="128.02" y2="304.55" stroke="#f0912c" stroke-width="1.6"/>
<line x1="129.07" y1="304.15" x2="129.07" y2="317.07" stroke="#f0912c" stroke-width="1.6"/>
<line x1="124.07" y1="317.07" x2="134.07" y2="317.07" stroke="#f0912c" stroke-width="1.6"/>
<line x1="124.07" y1="304.15" x2="134.07" y2="304.15" stroke="#f0912c" stroke-width="1.6"/>
<line x1="135.12" y1="303.81" x2="135.12" y2="316.67" stroke="#f0912c" stroke-width="1.6"/>
<line x1="130.12" y1="316.67" x2="140.12" y2="316.67" stroke="#f0912c" stroke-width="1.6"/>
<line x1="130.12" y1="303.81" x2="140.12" y2="303.81" stroke="#f0912c" stroke-width="1.6"/>
<line x1="141.18" y1="303.78" x2="141.18" y2="316.59" stroke="#f0912c" stroke-width="1.6"/>
<line x1="136.18" y1="316.59" x2="146.18" y2="316.59" stroke="#f0912c" stroke-width="1.6"/>
<line x1="136.18" y1="303.78" x2="146.18" y2="303.78" stroke="#f0912c" stroke-width="1.6"/>
<line x1="147.23" y1="303.75" x2="147.23" y2="316.51" stroke="#f0912c" stroke-width="1.6"/>
<line x1="142.23" y1="316.51" x2="152.23" y2="316.51" stroke="#f0912c" stroke-width="1.6"/>
<line x1="142.23" y1="303.75" x2="152.23" y2="303.75" stroke="#f0912c" stroke-width="1.6"/>
<line x1="153.27" y1="303.72" x2="153.27" y2="316.43" stroke="#f0912c" stroke-width="1.6"/>
<line x1="148.27" y1="316.43" x2="158.27" y2="316.43" stroke="#f0912c" stroke-width="1.6"/>
<line x1="148.27" y1="303.72" x2="158.27" y2="303.72" stroke="#f0912c" stroke-width="1.6"/>
<line x1="159.32" y1="303.69" x2="159.32" y2="316.34" stroke="#f0912c" stroke-width="1.6"/>
<line x1="154.32" y1="316.34" x2="164.32" y2="316.34" stroke="#f0912c" stroke-width="1.6"/>
<line x1="154.32" y1="303.69" x2="164.32" y2="303.69" stroke="#f0912c" stroke-width="1.6"/>
<line x1="165.38" y1="303.67" x2="165.38" y2="316.26" stroke="#f0912c" stroke-width="1.6"/>
<line x1="160.38" y1="316.26" x2="170.38" y2="316.26" stroke="#f0912c" stroke-width="1.6"/>
<line x1="160.38" y1="303.67" x2="170.38" y2="303.67" stroke="#f0912c" stroke-width="1.6"/>
<line x1="171.43" y1="303.64" x2="171.43" y2="316.18" stroke="#f0912c" stroke-width="1.6"/>
<line x1="166.43" y1="316.18" x2="176.43" y2="316.18" stroke="#f0912c" stroke-width="1.6"/>
<line x1="166.43" y1="303.64" x2="176.43" y2="303.64" stroke="#f0912c" stroke-width="1.6"/>
<line x1="177.48" y1="303.61" x2="177.48" y2="316.10" stroke="#f0912c" stroke-width="1.6"/>
<line x1="172.48" y1="316.10" x2="182.48" y2="316.10" stroke="#f0912c" stroke-width="1.6"/>
<line x1="172.48" y1="303.61" x2="182.48" y2="303.61" stroke="#f0912c" stroke-width="1.6"/>
<line x1="183.52" y1="303.58" x2="183.52" y2="316.01" stroke="#f0912c" stroke-width="1.6"/>
<line x1="178.52" y1="316.01" x2="188.52" y2="316.01" stroke="#f0912c" stroke-width="1.6"/>
<line x1="178.52" y1="303.58" x2="188.52" y2="303.58" stroke="#f0912c" stroke-width="1.6"/>
<line x1="189.57" y1="303.55" x2="189.57" y2="315.93" stroke="#f0912c" stroke-width="1.6"/>
<line x1="184.57" y1="315.93" x2="194.57" y2="315.93" stroke="#f0912c" stroke-width="1.6"/>
<line x1="184.57" y1="303.55" x2="194.57" y2="303.55" stroke="#f0912c" stroke-width="1.6"/>
<line x1="195.62" y1="303.53" x2="195.62" y2="315.86" stroke="#f0912c" stroke-width="1.6"/>
<line x1="190.62" y1="315.86" x2="200.62" y2="315.86" stroke="#f0912c" stroke-width="1.6"/>
<line x1="190.62" y1="303.53" x2="200.62" y2="303.53" stroke="#f0912c" stroke-width="1.6"/>
<polyline points="52.62,416.02 57.02,405.16 63.07,391.04 69.12,376.82 75.17,360.63 81.22,345.49 87.28,332.20 93.33,322.05 99.38,316.96 105.42,313.47 111.47,311.84 123.02,311.04 129.07,310.61 135.12,310.24 141.18,310.18 147.23,310.13 153.27,310.07 159.32,310.02 165.38,309.96 171.43,309.91 177.48,309.85 183.52,309.80 189.57,309.74 195.62,309.69" fill="none" stroke="#f0912c" stroke-width="2"/>
<rect x="48.12" y="411.52" width="9.00" height="9.00" fill="#f0912c"/>
<rect x="52.52" y="400.66" width="9.00" height="9.00" fill="#f0912c"/>
<rect x="58.57" y="386.54" width="9.00" height="9.00" fill="#f0912c"/>
<rect x="64.62" y="372.32" width="9.00" height="9.00" fill="#f0912c"/>
<rect x="70.67" y="356.13" width="9.00" height="9.00" fill="#f0912c"/>
<rect x="76.72" y="340.99" width="9.00" height="9.00" fill="#f0912c"/>
<rect x="82.78" y="327.70" width="9.00" height="9.00" fill="#f0912c"/>
<rect x="88.83" y="317.55" width="9.00" height="9.00" fill="#f0912c"/>
<rect x="94.88" y="312.46" width="9.00" height="9.00" fill="#f0912c"/>
<rect x="100.92" y="308.97" width="9.00" height="9.00" fill="#f0912c"/>
<rect x="106.97" y="307.34" width="9.00" height="9.00" fill="#f0912c"/>
<rect x="118.52" y="306.54" width="9.00" height="9.00" fill="#f0912c"/>
<rect x="124.57" y="306.11" width="9.00" height="9.00" fill="#f0912c"/>
<rect x="130.62" y="305.74" width="9.00" height="9.00" fill="#f0912c"/>
<rect x="136.68" y="305.68" width="9.00" height="9.00" fill="#f0912c"/>
<rect x="142.73" y="305.63" width="9.00" height="9.00" fill="#f0912c"/>
<rect x="148.77" y="305.57" width="9.00" height="9.00" fill="#f0912c"/>
<rect x="154.82" y="305.52" width="9.00" height="9.00" fill="#f0912c"/>
<rect x="160.88" y="305.46" width="9.00" height="9.00" fill="#f0912c"/>
<rect x="166.93" y="305.41" width="9.00" height="9.00" fill="#f0912c"/>
<rect x="172.98" y="305.35" width="9.00" height="9.00" fill="#f0912c"/>
<rect x="179.02" y="305.30" width="9.00" height="9.00" fill="#f0912c"/>
<rect x="185.07" y="305.24" width="9.00" height="9.00" fill="#f0912c"/>
<rect x="191.12" y="305.19" width="9.00" height="9.00" fill="#f0912c"/>
<line x1="81.22" y1="389.61" x2="81.22" y2="392.45" stroke="#e8716c" stroke-width="1.6"/>
<line x1="76.22" y1="389.61" x2="86.22" y2="389.61" stroke="#e8716c" stroke-width="1.6"/>
<line x1="87.28" y1="381.35" x2="87.28" y2="385.61" stroke="#e8716c" stroke-width="1.6"/>
<line x1="82.28" y1="381.35" x2="92.28" y2="381.35" stroke="#e8716c" stroke-width="1.6"/>
<line x1="93.33" y1="375.67" x2="93.33" y2="380.75" stroke="#e8716c" stroke-width="1.6"/>
<line x1="88.33" y1="375.67" x2="98.33" y2="375.67" stroke="#e8716c" stroke-width="1.6"/>
<line x1="99.38" y1="370.59" x2="99.38" y2="375.90" stroke="#e8716c" stroke-width="1.6"/>
<line x1="94.38" y1="370.59" x2="104.38" y2="370.59" stroke="#e8716c" stroke-width="1.6"/>
<line x1="105.42" y1="367.88" x2="105.42" y2="373.41" stroke="#e8716c" stroke-width="1.6"/>
<line x1="100.42" y1="367.88" x2="110.42" y2="367.88" stroke="#e8716c" stroke-width="1.6"/>
<line x1="111.47" y1="365.86" x2="111.47" y2="371.62" stroke="#e8716c" stroke-width="1.6"/>
<line x1="106.47" y1="365.86" x2="116.47" y2="365.86" stroke="#e8716c" stroke-width="1.6"/>
<line x1="123.02" y1="362.56" x2="123.02" y2="368.75" stroke="#e8716c" stroke-width="1.6"/>
<line x1="118.02" y1="362.56" x2="128.02" y2="362.56" stroke="#e8716c" stroke-width="1.6"/>
<line x1="129.07" y1="361.15" x2="129.07" y2="367.57" stroke="#e8716c" stroke-width="1.6"/>
<line x1="124.07" y1="361.15" x2="134.07" y2="361.15" stroke="#e8716c" stroke-width="1.6"/>
<line x1="135.12" y1="359.75" x2="135.12" y2="366.39" stroke="#e8716c" stroke-width="1.6"/>
<line x1="130.12" y1="359.75" x2="140.12" y2="359.75" stroke="#e8716c" stroke-width="1.6"/>
<line x1="141.18" y1="358.49" x2="141.18" y2="365.20" stroke="#e8716c" stroke-width="1.6"/>
<line x1="136.18" y1="358.49" x2="146.18" y2="358.49" stroke="#e8716c" stroke-width="1.6"/>
<line x1="147.23" y1="357.22" x2="147.23" y2="364.02" stroke="#e8716c" stroke-width="1.6"/>
<line x1="142.23" y1="357.22" x2="152.23" y2="357.22" stroke="#e8716c" stroke-width="1.6"/>
<line x1="153.27" y1="356.02" x2="153.27" y2="362.90" stroke="#e8716c" stroke-width="1.6"/>
<line x1="148.27" y1="356.02" x2="158.27" y2="356.02" stroke="#e8716c" stroke-width="1.6"/>
<line x1="159.32" y1="354.95" x2="159.32" y2="361.91" stroke="#e8716c" stroke-width="1.6"/>
<line x1="154.32" y1="354.95" x2="164.32" y2="354.95" stroke="#e8716c" stroke-width="1.6"/>
<line x1="165.38" y1="353.89" x2="165.38" y2="360.92" stroke="#e8716c" stroke-width="1.6"/>
<line x1="160.38" y1="353.89" x2="170.38" y2="353.89" stroke="#e8716c" stroke-width="1.6"/>
<line x1="171.43" y1="352.82" x2="171.43" y2="359.94" stroke="#e8716c" stroke-width="1.6"/>
<line x1="166.43" y1="352.82" x2="176.43" y2="352.82" stroke="#e8716c" stroke-width="1.6"/>
<line x1="177.48" y1="351.75" x2="177.48" y2="358.95" stroke="#e8716c" stroke-width="1.6"/>
<line x1="172.48" y1="351.75" x2="182.48" y2="351.75" stroke="#e8716c" stroke-width="1.6"/>
<line x1="183.52" y1="350.69" x2="183.52" y2="357.97" stroke="#e8716c" stroke-width="1.6"/>
<line x1="178.52" y1="350.69" x2="188.52" y2="350.69" stroke="#e8716c" stroke-width="1.6"/>
<line x1="189.57" y1="349.62" x2="189.57" y2="356.98" stroke="#e8716c" stroke-width="1.6"/>
<line x1="184.57" y1="349.62" x2="194.57" y2="349.62" stroke="#e8716c" stroke-width="1.6"/>
<line x1="195.62" y1="348.59" x2="195.62" y2="356.03" stroke="#e8716c" stroke-width="1.6"/>
<line x1="190.62" y1="348.59" x2="200.62" y2="348.59" stroke="#e8716c" stroke-width="1.6"/>
<polyline points="52.62,419.69 57.02,414.90 63.07,408.78 69.12,403.97 75.17,399.31 81.22,392.45 87.28,385.61 93.33,380.75 99.38,375.90 105.42,373.41 111.47,371.62 123.02,368.75 129.07,367.57 135.12,366.39 141.18,365.20 147.23,364.02 153.27,362.90 159.32,361.91 165.38,360.92 171.43,359.94 177.48,358.95 183.52,357.97 189.57,356.98 195.62,356.03" fill="none" stroke="#e8716c" stroke-width="2"/>
<path d="M52.62,413.99L57.62,423.49L47.62,423.49Z" fill="#e8716c"/>
<path d="M57.02,409.20L62.02,418.70L52.02,418.70Z" fill="#e8716c"/>
<path d="M63.07,403.08L68.07,412.58L58.07,412.58Z" fill="#e8716c"/>
<path d="M69.12,398.27L74.12,407.77L64.12,407.77Z" fill="#e8716c"/>
<path d="M75.17,393.61L80.17,403.11L70.17,403.11Z" fill="#e8716c"/>
<path d="M81.22,386.75L86.22,396.25L76.22,396.25Z" fill="#e8716c"/>
<path d="M87.28,379.91L92.28,389.41L82.28,389.41Z" fill="#e8716c"/>
<path d="M93.33,375.05L98.33,384.55L88.33,384.55Z" fill="#e8716c"/>
<path d="M99.38,370.20L104.38,379.70L94.38,379.70Z" fill="#e8716c"/>
<path d="M105.42,367.71L110.42,377.21L100.42,377.21Z" fill="#e8716c"/>
<path d="M111.47,365.92L116.47,375.42L106.47,375.42Z" fill="#e8716c"/>
<path d="M123.02,363.05L128.02,372.55L118.02,372.55Z" fill="#e8716c"/>
<path d="M129.07,361.87L134.07,371.37L124.07,371.37Z" fill="#e8716c"/>
<path d="M135.12,360.69L140.12,370.19L130.12,370.19Z" fill="#e8716c"/>
<path d="M141.18,359.50L146.18,369.00L136.18,369.00Z" fill="#e8716c"/>
<path d="M147.23,358.32L152.23,367.82L142.23,367.82Z" fill="#e8716c"/>
<path d="M153.27,357.20L158.27,366.70L148.27,366.70Z" fill="#e8716c"/>
<path d="M159.32,356.21L164.32,365.71L154.32,365.71Z" fill="#e8716c"/>
<path d="M165.38,355.22L170.38,364.72L160.38,364.72Z" fill="#e8716c"/>
<path d="M171.43,354.24L176.43,363.74L166.43,363.74Z" fill="#e8716c"/>
<path d="M177.48,353.25L182.48,362.75L172.48,362.75Z" fill="#e8716c"/>
<path d="M183.52,352.27L188.52,361.77L178.52,361.77Z" fill="#e8716c"/>
<path d="M189.57,351.28L194.57,360.78L184.57,360.78Z" fill="#e8716c"/>
<path d="M195.62,350.33L200.62,359.83L190.62,359.83Z" fill="#e8716c"/>
<line x1="52.62" y1="415.90" x2="52.62" y2="420.31" stroke="#f6c778" stroke-width="1.6"/>
<line x1="47.62" y1="420.31" x2="57.62" y2="420.31" stroke="#f6c778" stroke-width="1.6"/>
<line x1="47.62" y1="415.90" x2="57.62" y2="415.90" stroke="#f6c778" stroke-width="1.6"/>
<line x1="57.02" y1="415.89" x2="57.02" y2="420.30" stroke="#f6c778" stroke-width="1.6"/>
<line x1="52.02" y1="420.30" x2="62.02" y2="420.30" stroke="#f6c778" stroke-width="1.6"/>
<line x1="52.02" y1="415.89" x2="62.02" y2="415.89" stroke="#f6c778" stroke-width="1.6"/>
<line x1="63.07" y1="415.88" x2="63.07" y2="420.29" stroke="#f6c778" stroke-width="1.6"/>
<line x1="58.07" y1="420.29" x2="68.07" y2="420.29" stroke="#f6c778" stroke-width="1.6"/>
<line x1="58.07" y1="415.88" x2="68.07" y2="415.88" stroke="#f6c778" stroke-width="1.6"/>
<line x1="69.12" y1="415.87" x2="69.12" y2="420.28" stroke="#f6c778" stroke-width="1.6"/>
<line x1="64.12" y1="420.28" x2="74.12" y2="420.28" stroke="#f6c778" stroke-width="1.6"/>
<line x1="64.12" y1="415.87" x2="74.12" y2="415.87" stroke="#f6c778" stroke-width="1.6"/>
<line x1="75.17" y1="415.86" x2="75.17" y2="420.27" stroke="#f6c778" stroke-width="1.6"/>
<line x1="70.17" y1="420.27" x2="80.17" y2="420.27" stroke="#f6c778" stroke-width="1.6"/>
<line x1="70.17" y1="415.86" x2="80.17" y2="415.86" stroke="#f6c778" stroke-width="1.6"/>
<line x1="81.22" y1="415.85" x2="81.22" y2="420.26" stroke="#f6c778" stroke-width="1.6"/>
<line x1="76.22" y1="420.26" x2="86.22" y2="420.26" stroke="#f6c778" stroke-width="1.6"/>
<line x1="76.22" y1="415.85" x2="86.22" y2="415.85" stroke="#f6c778" stroke-width="1.6"/>
<line x1="87.28" y1="415.84" x2="87.28" y2="420.25" stroke="#f6c778" stroke-width="1.6"/>
<line x1="82.28" y1="420.25" x2="92.28" y2="420.25" stroke="#f6c778" stroke-width="1.6"/>
<line x1="82.28" y1="415.84" x2="92.28" y2="415.84" stroke="#f6c778" stroke-width="1.6"/>
<line x1="93.33" y1="415.83" x2="93.33" y2="420.24" stroke="#f6c778" stroke-width="1.6"/>
<line x1="88.33" y1="420.24" x2="98.33" y2="420.24" stroke="#f6c778" stroke-width="1.6"/>
<line x1="88.33" y1="415.83" x2="98.33" y2="415.83" stroke="#f6c778" stroke-width="1.6"/>
<line x1="99.38" y1="415.82" x2="99.38" y2="420.23" stroke="#f6c778" stroke-width="1.6"/>
<line x1="94.38" y1="420.23" x2="104.38" y2="420.23" stroke="#f6c778" stroke-width="1.6"/>
<line x1="94.38" y1="415.82" x2="104.38" y2="415.82" stroke="#f6c778" stroke-width="1.6"/>
<line x1="105.42" y1="415.81" x2="105.42" y2="420.22" stroke="#f6c778" stroke-width="1.6"/>
<line x1="100.42" y1="420.22" x2="110.42" y2="420.22" stroke="#f6c778" stroke-width="1.6"/>
<line x1="100.42" y1="415.81" x2="110.42" y2="415.81" stroke="#f6c778" stroke-width="1.6"/>
<line x1="111.47" y1="415.80" x2="111.47" y2="420.21" stroke="#f6c778" stroke-width="1.6"/>
<line x1="106.47" y1="420.21" x2="116.47" y2="420.21" stroke="#f6c778" stroke-width="1.6"/>
<line x1="106.47" y1="415.80" x2="116.47" y2="415.80" stroke="#f6c778" stroke-width="1.6"/>
<line x1="123.02" y1="415.78" x2="123.02" y2="420.19" stroke="#f6c778" stroke-width="1.6"/>
<line x1="118.02" y1="420.19" x2="128.02" y2="420.19" stroke="#f6c778" stroke-width="1.6"/>
<line x1="118.02" y1="415.78" x2="128.02" y2="415.78" stroke="#f6c778" stroke-width="1.6"/>
<line x1="129.07" y1="415.77" x2="129.07" y2="420.18" stroke="#f6c778" stroke-width="1.6"/>
<line x1="124.07" y1="420.18" x2="134.07" y2="420.18" stroke="#f6c778" stroke-width="1.6"/>
<line x1="124.07" y1="415.77" x2="134.07" y2="415.77" stroke="#f6c778" stroke-width="1.6"/>
<line x1="135.12" y1="415.76" x2="135.12" y2="420.17" stroke="#f6c778" stroke-width="1.6"/>
<line x1="130.12" y1="420.17" x2="140.12" y2="420.17" stroke="#f6c778" stroke-width="1.6"/>
<line x1="130.12" y1="415.76" x2="140.12" y2="415.76" stroke="#f6c778" stroke-width="1.6"/>
<line x1="141.18" y1="415.75" x2="141.18" y2="420.16" stroke="#f6c778" stroke-width="1.6"/>
<line x1="136.18" y1="420.16" x2="146.18" y2="420.16" stroke="#f6c778" stroke-width="1.6"/>
<line x1="136.18" y1="415.75" x2="146.18" y2="415.75" stroke="#f6c778" stroke-width="1.6"/>
<line x1="147.23" y1="415.74" x2="147.23" y2="420.15" stroke="#f6c778" stroke-width="1.6"/>
<line x1="142.23" y1="420.15" x2="152.23" y2="420.15" stroke="#f6c778" stroke-width="1.6"/>
<line x1="142.23" y1="415.74" x2="152.23" y2="415.74" stroke="#f6c778" stroke-width="1.6"/>
<line x1="153.27" y1="415.73" x2="153.27" y2="420.14" stroke="#f6c778" stroke-width="1.6"/>
<line x1="148.27" y1="420.14" x2="158.27" y2="420.14" stroke="#f6c778" stroke-width="1.6"/>
<line x1="148.27" y1="415.73" x2="158.27" y2="415.73" stroke="#f6c778" stroke-width="1.6"/>
<line x1="159.32" y1="415.72" x2="159.32" y2="420.13" stroke="#f6c778" stroke-width="1.6"/>
<line x1="154.32" y1="420.13" x2="164.32" y2="420.13" stroke="#f6c778" stroke-width="1.6"/>
<line x1="154.32" y1="415.72" x2="164.32" y2="415.72" stroke="#f6c778" stroke-width="1.6"/>
<line x1="165.38" y1="415.71" x2="165.38" y2="420.12" stroke="#f6c778" stroke-width="1.6"/>
<line x1="160.38" y1="420.12" x2="170.38" y2="420.12" stroke="#f6c778" stroke-width="1.6"/>
<line x1="160.38" y1="415.71" x2="170.38" y2="415.71" stroke="#f6c778" stroke-width="1.6"/>
<line x1="171.43" y1="415.70" x2="171.43" y2="420.11" stroke="#f6c778" stroke-width="1.6"/>
<line x1="166.43" y1="420.11" x2="176.43" y2="420.11" stroke="#f6c778" stroke-width="1.6"/>
<line x1="166.43" y1="415.70" x2="176.43" y2="415.70" stroke="#f6c778" stroke-width="1.6"/>
<line x1="177.48" y1="415.69" x2="177.48" y2="420.10" stroke="#f6c778" stroke-width="1.6"/>
<line x1="172.48" y1="420.10" x2="182.48" y2="420.10" stroke="#f6c778" stroke-width="1.6"/>
<line x1="172.48" y1="415.69" x2="182.48" y2="415.69" stroke="#f6c778" stroke-width="1.6"/>
<line x1="183.52" y1="415.68" x2="183.52" y2="420.09" stroke="#f6c778" stroke-width="1.6"/>
<line x1="178.52" y1="420.09" x2="188.52" y2="420.09" stroke="#f6c778" stroke-width="1.6"/>
<line x1="178.52" y1="415.68" x2="188.52" y2="415.68" stroke="#f6c778" stroke-width="1.6"/>
<line x1="189.57" y1="415.67" x2="189.57" y2="420.08" stroke="#f6c778" stroke-width="1.6"/>
<line x1="184.57" y1="420.08" x2="194.57" y2="420.08" stroke="#f6c778" stroke-width="1.6"/>
<line x1="184.57" y1="415.67" x2="194.57" y2="415.67" stroke="#f6c778" stroke-width="1.6"/>
<line x1="195.62" y1="415.66" x2="195.62" y2="420.07" stroke="#f6c778" stroke-width="1.6"/>
<line x1="190.62" y1="420.07" x2="200.62" y2="420.07" stroke="#f6c778" stroke-width="1.6"/>
<line x1="190.62" y1="415.66" x2="200.62" y2="415.66" stroke="#f6c778" stroke-width="1.6"/>
<polyline points="52.62,418.10 57.02,418.10 63.07,418.08 69.12,418.07 75.17,418.06 81.22,418.05 87.28,418.04 93.33,418.03 99.38,418.02 105.42,418.01 111.47,418.00 123.02,417.98 129.07,417.97 135.12,417.96 141.18,417.95 147.23,417.94 153.27,417.93 159.32,417.92 165.38,417.91 171.43,417.90 177.48,417.89 183.52,417.88 189.57,417.87 195.62,417.86" fill="none" stroke="#f6c778" stroke-width="2"/>
<rect x="48.12" y="413.60" width="9.00" height="9.00" fill="#f6c778"/>
<rect x="52.52" y="413.60" width="9.00" height="9.00" fill="#f6c778"/>
<rect x="58.57" y="413.58" width="9.00" height="9.00" fill="#f6c778"/>
<rect x="64.62" y="413.57" width="9.00" height="9.00" fill="#f6c778"/>
<rect x="70.67" y="413.56" width="9.00" height="9.00" fill="#f6c778"/>
<rect x="76.72" y="413.55" width="9.00" height="9.00" fill="#f6c778"/>
<rect x="82.78" y="413.54" width="9.00" height="9.00" fill="#f6c778"/>
<rect x="88.83" y="413.53" width="9.00" height="9.00" fill="#f6c778"/>
<rect x="94.88" y="413.52" width="9.00" height="9.00" fill="#f6c778"/>
<rect x="100.92" y="413.51" width="9.00" height="9.00" fill="#f6c778"/>
<rect x="106.97" y="413.50" width="9.00" height="9.00" fill="#f6c778"/>
<rect x="118.52" y="413.48" width="9.00" height="9.00" fill="#f6c778"/>
<rect x="124.57" y="413.47" width="9.00" height="9.00" fill="#f6c778"/>
<rect x="130.62" y="413.46" width="9.00" height="9.00" fill="#f6c778"/>
<rect x="136.68" y="413.45" width="9.00" height="9.00" fill="#f6c778"/>
<rect x="142.73" y="413.44" width="9.00" height="9.00" fill="#f6c778"/>
<rect x="148.77" y="413.43" width="9.00" height="9.00" fill="#f6c778"/>
<rect x="154.82" y="413.42" width="9.00" height="9.00" fill="#f6c778"/>
<rect x="160.88" y="413.41" width="9.00" height="9.00" fill="#f6c778"/>
<rect x="166.93" y="413.40" width="9.00" height="9.00" fill="#f6c778"/>
<rect x="172.98" y="413.39" width="9.00" height="9.00" fill="#f6c778"/>
<rect x="179.02" y="413.38" width="9.00" height="9.00" fill="#f6c778"/>
<rect x="185.07" y="413.37" width="9.00" height="9.00" fill="#f6c778"/>
<rect x="191.12" y="413.36" width="9.00" height="9.00" fill="#f6c778"/>
<polyline points="52.62,420.03 57.02,420.03 63.07,420.02 69.12,420.01 75.17,420.00 81.22,419.99 87.28,419.98 93.33,419.97 99.38,419.96 105.42,419.95 111.47,419.93 123.02,419.92 129.07,419.91 135.12,419.90 141.18,419.89 147.23,419.88 153.27,419.87 159.32,419.85 165.38,419.84 171.43,419.83 177.48,419.82 183.52,419.81 189.57,419.80 195.62,419.79" fill="none" stroke="#76777a" stroke-width="2"/>
<circle cx="52.62" cy="420.03" r="4.80" fill="#76777a"/>
<circle cx="57.02" cy="420.03" r="4.80" fill="#76777a"/>
<circle cx="63.07" cy="420.02" r="4.80" fill="#76777a"/>
<circle cx="69.12" cy="420.01" r="4.80" fill="#76777a"/>
<circle cx="75.17" cy="420.00" r="4.80" fill="#76777a"/>
<circle cx="81.22" cy="419.99" r="4.80" fill="#76777a"/>
<circle cx="87.28" cy="419.98" r="4.80" fill="#76777a"/>
<circle cx="93.33" cy="419.97" r="4.80" fill="#76777a"/>
<circle cx="99.38" cy="419.96" r="4.80" fill="#76777a"/>
<circle cx="105.42" cy="419.95" r="4.80" fill="#76777a"/>
<circle cx="111.47" cy="419.93" r="4.80" fill="#76777a"/>
<circle cx="123.02" cy="419.92" r="4.80" fill="#76777a"/>
<circle cx="129.07" cy="419.91" r="4.80" fill="#76777a"/>
<circle cx="135.12" cy="419.90" r="4.80" fill="#76777a"/>
<circle cx="141.18" cy="419.89" r="4.80" fill="#76777a"/>
<circle cx="147.23" cy="419.88" r="4.80" fill="#76777a"/>
<circle cx="153.27" cy="419.87" r="4.80" fill="#76777a"/>
<circle cx="159.32" cy="419.85" r="4.80" fill="#76777a"/>
<circle cx="165.38" cy="419.84" r="4.80" fill="#76777a"/>
<circle cx="171.43" cy="419.83" r="4.80" fill="#76777a"/>
<circle cx="177.48" cy="419.82" r="4.80" fill="#76777a"/>
<circle cx="183.52" cy="419.81" r="4.80" fill="#76777a"/>
<circle cx="189.57" cy="419.80" r="4.80" fill="#76777a"/>
<circle cx="195.62" cy="419.79" r="4.80" fill="#76777a"/>
</g>
<path d="M51.8,260.0 H216.8 V425.0 H51.8 Z" fill="none" stroke="#000" stroke-width="1.7"/>
<line x1="46.8" y1="425.00" x2="51.8" y2="425.00" stroke="#000" stroke-width="1.5"/>
<text x="45.00" y="431.30" font-size="14" text-anchor="end" fill="#231f20" >0</text>
<line x1="46.8" y1="397.42" x2="51.8" y2="397.42" stroke="#000" stroke-width="1.5"/>
<text x="45.00" y="403.72" font-size="14" text-anchor="end" fill="#231f20" >5</text>
<line x1="46.8" y1="369.83" x2="51.8" y2="369.83" stroke="#000" stroke-width="1.5"/>
<text x="45.00" y="376.13" font-size="14" text-anchor="end" fill="#231f20" >10</text>
<line x1="46.8" y1="342.25" x2="51.8" y2="342.25" stroke="#000" stroke-width="1.5"/>
<text x="45.00" y="348.55" font-size="14" text-anchor="end" fill="#231f20" >15</text>
<line x1="46.8" y1="314.66" x2="51.8" y2="314.66" stroke="#000" stroke-width="1.5"/>
<text x="45.00" y="320.96" font-size="14" text-anchor="end" fill="#231f20" >20</text>
<line x1="46.8" y1="287.07" x2="51.8" y2="287.07" stroke="#000" stroke-width="1.5"/>
<text x="45.00" y="293.38" font-size="14" text-anchor="end" fill="#231f20" >25</text>
<line x1="46.8" y1="259.49" x2="51.8" y2="259.49" stroke="#000" stroke-width="1.5"/>
<text x="45.00" y="265.79" font-size="14" text-anchor="end" fill="#231f20" >30</text>
<line x1="51.80" y1="425.0" x2="51.80" y2="429.5" stroke="#000" stroke-width="1.5"/>
<text x="51.50" y="444.60" font-size="13.5" text-anchor="middle" fill="#231f20" >0</text>
<line x1="79.30" y1="425.0" x2="79.30" y2="429.5" stroke="#000" stroke-width="1.5"/>
<text x="79.00" y="444.60" font-size="13.5" text-anchor="middle" fill="#231f20" >10</text>
<line x1="106.80" y1="425.0" x2="106.80" y2="429.5" stroke="#000" stroke-width="1.5"/>
<text x="106.50" y="444.60" font-size="13.5" text-anchor="middle" fill="#231f20" >20</text>
<line x1="134.30" y1="425.0" x2="134.30" y2="429.5" stroke="#000" stroke-width="1.5"/>
<text x="134.00" y="444.60" font-size="13.5" text-anchor="middle" fill="#231f20" >30</text>
<line x1="161.80" y1="425.0" x2="161.80" y2="429.5" stroke="#000" stroke-width="1.5"/>
<text x="161.50" y="444.60" font-size="13.5" text-anchor="middle" fill="#231f20" >40</text>
<line x1="189.30" y1="425.0" x2="189.30" y2="429.5" stroke="#000" stroke-width="1.5"/>
<text x="189.00" y="444.60" font-size="13.5" text-anchor="middle" fill="#231f20" >50</text>
<line x1="216.80" y1="425.0" x2="216.80" y2="429.5" stroke="#000" stroke-width="1.5"/>
<text x="135.30" y="460.50" font-size="14" text-anchor="middle" fill="#231f20" >Time (min)</text>
<text x="59.00" y="281.20" font-size="16" text-anchor="start" fill="#231f20" >R1881</text>
<text transform="translate(20.9,379.2) rotate(-90)" font-size="16.5" fill="#231f20" textLength="59.5" lengthAdjust="spacingAndGlyphs">RLU x 10</text>
<text transform="translate(11.5,316.8) rotate(-90)" font-size="11.5" fill="#231f20">3</text>
<line x1="33.60" y1="474.6" x2="53.60" y2="474.6" stroke="#76777a" stroke-width="3"/>
<circle cx="43.60" cy="474.60" r="4.75" fill="#76777a"/>
<text x="59.00" y="479.50" font-size="14" text-anchor="start" fill="#231f20" >Veh</text>
<line x1="89.50" y1="474.6" x2="109.50" y2="474.6" stroke="#f6c778" stroke-width="3"/>
<rect x="94.50" y="469.60" width="10.00" height="10.00" fill="#f6c778"/>
<text x="113.00" y="479.50" font-size="14" text-anchor="start" fill="#231f20" >0.1nM</text>
<line x1="157.60" y1="474.6" x2="177.60" y2="474.6" stroke="#e8716c" stroke-width="3"/>
<path d="M167.60,468.90L172.60,478.40L162.60,478.40Z" fill="#e8716c"/>
<text x="182.30" y="479.50" font-size="14" text-anchor="start" fill="#231f20" >1nM</text>
<line x1="89.50" y1="496.4" x2="109.50" y2="496.4" stroke="#f0912c" stroke-width="3"/>
<rect x="94.50" y="491.40" width="10.00" height="10.00" fill="#f0912c"/>
<text x="113.00" y="501.30" font-size="14" text-anchor="start" fill="#231f20" >10nM</text>
<line x1="157.60" y1="496.4" x2="177.60" y2="496.4" stroke="#e6428b" stroke-width="3"/>
<path d="M167.60,490.40L173.60,496.40L167.60,502.40L161.60,496.40Z" fill="#e6428b"/>
<text x="182.30" y="501.30" font-size="14" text-anchor="start" fill="#231f20" >100nM</text>
<clipPath id="clip277"><rect x="277.2" y="248.0" width="169.0" height="177.0"/></clipPath>
<g clip-path="url(#clip277)">
<line x1="278.02" y1="418.52" x2="278.02" y2="420.37" stroke="#3456a6" stroke-width="1.6"/>
<line x1="273.02" y1="418.52" x2="283.02" y2="418.52" stroke="#3456a6" stroke-width="1.6"/>
<line x1="282.43" y1="409.57" x2="282.43" y2="412.40" stroke="#3456a6" stroke-width="1.6"/>
<line x1="277.43" y1="409.57" x2="287.43" y2="409.57" stroke="#3456a6" stroke-width="1.6"/>
<line x1="288.47" y1="393.55" x2="288.47" y2="397.75" stroke="#3456a6" stroke-width="1.6"/>
<line x1="283.47" y1="393.55" x2="293.47" y2="393.55" stroke="#3456a6" stroke-width="1.6"/>
<line x1="294.52" y1="377.53" x2="294.52" y2="383.09" stroke="#3456a6" stroke-width="1.6"/>
<line x1="289.52" y1="377.53" x2="299.52" y2="377.53" stroke="#3456a6" stroke-width="1.6"/>
<line x1="300.57" y1="360.30" x2="300.57" y2="366.93" stroke="#3456a6" stroke-width="1.6"/>
<line x1="295.57" y1="360.30" x2="305.57" y2="360.30" stroke="#3456a6" stroke-width="1.6"/>
<line x1="306.62" y1="343.67" x2="306.62" y2="350.32" stroke="#3456a6" stroke-width="1.6"/>
<line x1="301.62" y1="343.67" x2="311.62" y2="343.67" stroke="#3456a6" stroke-width="1.6"/>
<line x1="312.68" y1="328.41" x2="312.68" y2="335.09" stroke="#3456a6" stroke-width="1.6"/>
<line x1="307.68" y1="328.41" x2="317.68" y2="328.41" stroke="#3456a6" stroke-width="1.6"/>
<line x1="318.73" y1="319.36" x2="318.73" y2="326.05" stroke="#3456a6" stroke-width="1.6"/>
<line x1="313.73" y1="319.36" x2="323.73" y2="319.36" stroke="#3456a6" stroke-width="1.6"/>
<line x1="324.77" y1="311.24" x2="324.77" y2="317.96" stroke="#3456a6" stroke-width="1.6"/>
<line x1="319.77" y1="311.24" x2="329.77" y2="311.24" stroke="#3456a6" stroke-width="1.6"/>
<line x1="330.82" y1="306.30" x2="330.82" y2="313.04" stroke="#3456a6" stroke-width="1.6"/>
<line x1="325.82" y1="306.30" x2="335.82" y2="306.30" stroke="#3456a6" stroke-width="1.6"/>
<line x1="336.88" y1="302.49" x2="336.88" y2="309.25" stroke="#3456a6" stroke-width="1.6"/>
<line x1="331.88" y1="302.49" x2="341.88" y2="302.49" stroke="#3456a6" stroke-width="1.6"/>
<line x1="348.42" y1="299.78" x2="348.42" y2="306.59" stroke="#3456a6" stroke-width="1.6"/>
<line x1="343.42" y1="299.78" x2="353.42" y2="299.78" stroke="#3456a6" stroke-width="1.6"/>
<line x1="354.47" y1="299.00" x2="354.47" y2="305.83" stroke="#3456a6" stroke-width="1.6"/>
<line x1="349.47" y1="299.00" x2="359.47" y2="299.00" stroke="#3456a6" stroke-width="1.6"/>
<line x1="360.52" y1="298.98" x2="360.52" y2="305.83" stroke="#3456a6" stroke-width="1.6"/>
<line x1="355.52" y1="298.98" x2="365.52" y2="298.98" stroke="#3456a6" stroke-width="1.6"/>
<line x1="366.57" y1="298.95" x2="366.57" y2="305.83" stroke="#3456a6" stroke-width="1.6"/>
<line x1="361.57" y1="298.95" x2="371.57" y2="298.95" stroke="#3456a6" stroke-width="1.6"/>
<line x1="372.62" y1="298.93" x2="372.62" y2="305.83" stroke="#3456a6" stroke-width="1.6"/>
<line x1="367.62" y1="298.93" x2="377.62" y2="298.93" stroke="#3456a6" stroke-width="1.6"/>
<line x1="378.67" y1="298.91" x2="378.67" y2="305.83" stroke="#3456a6" stroke-width="1.6"/>
<line x1="373.67" y1="298.91" x2="383.67" y2="298.91" stroke="#3456a6" stroke-width="1.6"/>
<line x1="384.73" y1="298.88" x2="384.73" y2="305.83" stroke="#3456a6" stroke-width="1.6"/>
<line x1="379.73" y1="298.88" x2="389.73" y2="298.88" stroke="#3456a6" stroke-width="1.6"/>
<line x1="390.77" y1="298.92" x2="390.77" y2="305.89" stroke="#3456a6" stroke-width="1.6"/>
<line x1="385.77" y1="298.92" x2="395.77" y2="298.92" stroke="#3456a6" stroke-width="1.6"/>
<line x1="396.82" y1="299.00" x2="396.82" y2="305.99" stroke="#3456a6" stroke-width="1.6"/>
<line x1="391.82" y1="299.00" x2="401.82" y2="299.00" stroke="#3456a6" stroke-width="1.6"/>
<line x1="402.88" y1="299.07" x2="402.88" y2="306.09" stroke="#3456a6" stroke-width="1.6"/>
<line x1="397.88" y1="299.07" x2="407.88" y2="299.07" stroke="#3456a6" stroke-width="1.6"/>
<line x1="408.92" y1="299.15" x2="408.92" y2="306.20" stroke="#3456a6" stroke-width="1.6"/>
<line x1="403.92" y1="299.15" x2="413.92" y2="299.15" stroke="#3456a6" stroke-width="1.6"/>
<line x1="414.98" y1="299.23" x2="414.98" y2="306.30" stroke="#3456a6" stroke-width="1.6"/>
<line x1="409.98" y1="299.23" x2="419.98" y2="299.23" stroke="#3456a6" stroke-width="1.6"/>
<line x1="421.02" y1="299.29" x2="421.02" y2="306.38" stroke="#3456a6" stroke-width="1.6"/>
<line x1="416.02" y1="299.29" x2="426.02" y2="299.29" stroke="#3456a6" stroke-width="1.6"/>
<polyline points="278.02,420.37 282.43,412.40 288.47,397.75 294.52,383.09 300.57,366.93 306.62,350.32 312.68,335.09 318.73,326.05 324.77,317.96 330.82,313.04 336.88,309.25 348.42,306.59 354.47,305.83 360.52,305.83 366.57,305.83 372.62,305.83 378.67,305.83 384.73,305.83 390.77,305.89 396.82,305.99 402.88,306.09 408.92,306.20 414.98,306.30 421.02,306.38" fill="none" stroke="#3456a6" stroke-width="2"/>
<rect x="274.02" y="416.37" width="8.00" height="8.00" fill="#3456a6"/>
<rect x="278.43" y="408.40" width="8.00" height="8.00" fill="#3456a6"/>
<rect x="284.47" y="393.75" width="8.00" height="8.00" fill="#3456a6"/>
<rect x="290.52" y="379.09" width="8.00" height="8.00" fill="#3456a6"/>
<rect x="296.57" y="362.93" width="8.00" height="8.00" fill="#3456a6"/>
<rect x="302.62" y="346.32" width="8.00" height="8.00" fill="#3456a6"/>
<rect x="308.68" y="331.09" width="8.00" height="8.00" fill="#3456a6"/>
<rect x="314.73" y="322.05" width="8.00" height="8.00" fill="#3456a6"/>
<rect x="320.77" y="313.96" width="8.00" height="8.00" fill="#3456a6"/>
<rect x="326.82" y="309.04" width="8.00" height="8.00" fill="#3456a6"/>
<rect x="332.88" y="305.25" width="8.00" height="8.00" fill="#3456a6"/>
<rect x="344.42" y="302.59" width="8.00" height="8.00" fill="#3456a6"/>
<rect x="350.47" y="301.83" width="8.00" height="8.00" fill="#3456a6"/>
<rect x="356.52" y="301.83" width="8.00" height="8.00" fill="#3456a6"/>
<rect x="362.57" y="301.83" width="8.00" height="8.00" fill="#3456a6"/>
<rect x="368.62" y="301.83" width="8.00" height="8.00" fill="#3456a6"/>
<rect x="374.67" y="301.83" width="8.00" height="8.00" fill="#3456a6"/>
<rect x="380.73" y="301.83" width="8.00" height="8.00" fill="#3456a6"/>
<rect x="386.77" y="301.89" width="8.00" height="8.00" fill="#3456a6"/>
<rect x="392.82" y="301.99" width="8.00" height="8.00" fill="#3456a6"/>
<rect x="398.88" y="302.09" width="8.00" height="8.00" fill="#3456a6"/>
<rect x="404.92" y="302.20" width="8.00" height="8.00" fill="#3456a6"/>
<rect x="410.98" y="302.30" width="8.00" height="8.00" fill="#3456a6"/>
<rect x="417.02" y="302.38" width="8.00" height="8.00" fill="#3456a6"/>
<line x1="278.02" y1="418.75" x2="278.02" y2="422.43" stroke="#4fae55" stroke-width="1.6"/>
<line x1="273.02" y1="422.43" x2="283.02" y2="422.43" stroke="#4fae55" stroke-width="1.6"/>
<line x1="273.02" y1="418.75" x2="283.02" y2="418.75" stroke="#4fae55" stroke-width="1.6"/>
<line x1="282.43" y1="410.80" x2="282.43" y2="416.47" stroke="#4fae55" stroke-width="1.6"/>
<line x1="277.43" y1="416.47" x2="287.43" y2="416.47" stroke="#4fae55" stroke-width="1.6"/>
<line x1="277.43" y1="410.80" x2="287.43" y2="410.80" stroke="#4fae55" stroke-width="1.6"/>
<line x1="288.47" y1="395.46" x2="288.47" y2="403.86" stroke="#4fae55" stroke-width="1.6"/>
<line x1="283.47" y1="403.86" x2="293.47" y2="403.86" stroke="#4fae55" stroke-width="1.6"/>
<line x1="283.47" y1="395.46" x2="293.47" y2="395.46" stroke="#4fae55" stroke-width="1.6"/>
<line x1="294.52" y1="380.13" x2="294.52" y2="391.26" stroke="#4fae55" stroke-width="1.6"/>
<line x1="289.52" y1="391.26" x2="299.52" y2="391.26" stroke="#4fae55" stroke-width="1.6"/>
<line x1="289.52" y1="380.13" x2="299.52" y2="380.13" stroke="#4fae55" stroke-width="1.6"/>
<line x1="300.57" y1="365.60" x2="300.57" y2="379.12" stroke="#4fae55" stroke-width="1.6"/>
<line x1="295.57" y1="379.12" x2="305.57" y2="379.12" stroke="#4fae55" stroke-width="1.6"/>
<line x1="295.57" y1="365.60" x2="305.57" y2="365.60" stroke="#4fae55" stroke-width="1.6"/>
<line x1="306.62" y1="351.84" x2="306.62" y2="366.57" stroke="#4fae55" stroke-width="1.6"/>
<line x1="301.62" y1="366.57" x2="311.62" y2="366.57" stroke="#4fae55" stroke-width="1.6"/>
<line x1="301.62" y1="351.84" x2="311.62" y2="351.84" stroke="#4fae55" stroke-width="1.6"/>
<line x1="312.68" y1="338.22" x2="312.68" y2="354.17" stroke="#4fae55" stroke-width="1.6"/>
<line x1="307.68" y1="354.17" x2="317.68" y2="354.17" stroke="#4fae55" stroke-width="1.6"/>
<line x1="307.68" y1="338.22" x2="317.68" y2="338.22" stroke="#4fae55" stroke-width="1.6"/>
<line x1="318.73" y1="327.46" x2="318.73" y2="344.62" stroke="#4fae55" stroke-width="1.6"/>
<line x1="313.73" y1="344.62" x2="323.73" y2="344.62" stroke="#4fae55" stroke-width="1.6"/>
<line x1="313.73" y1="327.46" x2="323.73" y2="327.46" stroke="#4fae55" stroke-width="1.6"/>
<line x1="324.77" y1="316.70" x2="324.77" y2="335.07" stroke="#4fae55" stroke-width="1.6"/>
<line x1="319.77" y1="335.07" x2="329.77" y2="335.07" stroke="#4fae55" stroke-width="1.6"/>
<line x1="319.77" y1="316.70" x2="329.77" y2="316.70" stroke="#4fae55" stroke-width="1.6"/>
<line x1="330.82" y1="311.29" x2="330.82" y2="330.87" stroke="#4fae55" stroke-width="1.6"/>
<line x1="325.82" y1="330.87" x2="335.82" y2="330.87" stroke="#4fae55" stroke-width="1.6"/>
<line x1="325.82" y1="311.29" x2="335.82" y2="311.29" stroke="#4fae55" stroke-width="1.6"/>
<line x1="336.88" y1="307.51" x2="336.88" y2="327.42" stroke="#4fae55" stroke-width="1.6"/>
<line x1="331.88" y1="327.42" x2="341.88" y2="327.42" stroke="#4fae55" stroke-width="1.6"/>
<line x1="331.88" y1="307.51" x2="341.88" y2="307.51" stroke="#4fae55" stroke-width="1.6"/>
<line x1="348.42" y1="301.08" x2="348.42" y2="321.11" stroke="#4fae55" stroke-width="1.6"/>
<line x1="343.42" y1="321.11" x2="353.42" y2="321.11" stroke="#4fae55" stroke-width="1.6"/>
<line x1="343.42" y1="301.08" x2="353.42" y2="301.08" stroke="#4fae55" stroke-width="1.6"/>
<line x1="354.47" y1="299.92" x2="354.47" y2="320.00" stroke="#4fae55" stroke-width="1.6"/>
<line x1="349.47" y1="320.00" x2="359.47" y2="320.00" stroke="#4fae55" stroke-width="1.6"/>
<line x1="349.47" y1="299.92" x2="359.47" y2="299.92" stroke="#4fae55" stroke-width="1.6"/>
<line x1="360.52" y1="298.97" x2="360.52" y2="319.12" stroke="#4fae55" stroke-width="1.6"/>
<line x1="355.52" y1="319.12" x2="365.52" y2="319.12" stroke="#4fae55" stroke-width="1.6"/>
<line x1="355.52" y1="298.97" x2="365.52" y2="298.97" stroke="#4fae55" stroke-width="1.6"/>
<line x1="366.57" y1="298.02" x2="366.57" y2="318.23" stroke="#4fae55" stroke-width="1.6"/>
<line x1="361.57" y1="318.23" x2="371.57" y2="318.23" stroke="#4fae55" stroke-width="1.6"/>
<line x1="361.57" y1="298.02" x2="371.57" y2="298.02" stroke="#4fae55" stroke-width="1.6"/>
<line x1="372.62" y1="298.21" x2="372.62" y2="318.48" stroke="#4fae55" stroke-width="1.6"/>
<line x1="367.62" y1="318.48" x2="377.62" y2="318.48" stroke="#4fae55" stroke-width="1.6"/>
<line x1="367.62" y1="298.21" x2="377.62" y2="298.21" stroke="#4fae55" stroke-width="1.6"/>
<line x1="378.67" y1="298.51" x2="378.67" y2="318.84" stroke="#4fae55" stroke-width="1.6"/>
<line x1="373.67" y1="318.84" x2="383.67" y2="318.84" stroke="#4fae55" stroke-width="1.6"/>
<line x1="373.67" y1="298.51" x2="383.67" y2="298.51" stroke="#4fae55" stroke-width="1.6"/>
<line x1="384.73" y1="298.81" x2="384.73" y2="319.20" stroke="#4fae55" stroke-width="1.6"/>
<line x1="379.73" y1="319.20" x2="389.73" y2="319.20" stroke="#4fae55" stroke-width="1.6"/>
<line x1="379.73" y1="298.81" x2="389.73" y2="298.81" stroke="#4fae55" stroke-width="1.6"/>
<line x1="390.77" y1="299.10" x2="390.77" y2="319.55" stroke="#4fae55" stroke-width="1.6"/>
<line x1="385.77" y1="319.55" x2="395.77" y2="319.55" stroke="#4fae55" stroke-width="1.6"/>
<line x1="385.77" y1="299.10" x2="395.77" y2="299.10" stroke="#4fae55" stroke-width="1.6"/>
<line x1="396.82" y1="299.37" x2="396.82" y2="319.88" stroke="#4fae55" stroke-width="1.6"/>
<line x1="391.82" y1="319.88" x2="401.82" y2="319.88" stroke="#4fae55" stroke-width="1.6"/>
<line x1="391.82" y1="299.37" x2="401.82" y2="299.37" stroke="#4fae55" stroke-width="1.6"/>
<line x1="402.88" y1="299.64" x2="402.88" y2="320.21" stroke="#4fae55" stroke-width="1.6"/>
<line x1="397.88" y1="320.21" x2="407.88" y2="320.21" stroke="#4fae55" stroke-width="1.6"/>
<line x1="397.88" y1="299.64" x2="407.88" y2="299.64" stroke="#4fae55" stroke-width="1.6"/>
<line x1="408.92" y1="299.92" x2="408.92" y2="320.55" stroke="#4fae55" stroke-width="1.6"/>
<line x1="403.92" y1="320.55" x2="413.92" y2="320.55" stroke="#4fae55" stroke-width="1.6"/>
<line x1="403.92" y1="299.92" x2="413.92" y2="299.92" stroke="#4fae55" stroke-width="1.6"/>
<line x1="414.98" y1="300.19" x2="414.98" y2="320.88" stroke="#4fae55" stroke-width="1.6"/>
<line x1="409.98" y1="320.88" x2="419.98" y2="320.88" stroke="#4fae55" stroke-width="1.6"/>
<line x1="409.98" y1="300.19" x2="419.98" y2="300.19" stroke="#4fae55" stroke-width="1.6"/>
<line x1="421.02" y1="300.42" x2="421.02" y2="321.17" stroke="#4fae55" stroke-width="1.6"/>
<line x1="416.02" y1="321.17" x2="426.02" y2="321.17" stroke="#4fae55" stroke-width="1.6"/>
<line x1="416.02" y1="300.42" x2="426.02" y2="300.42" stroke="#4fae55" stroke-width="1.6"/>
<polyline points="278.02,420.59 282.43,413.63 288.47,399.66 294.52,385.69 300.57,372.36 306.62,359.21 312.68,346.20 318.73,336.04 324.77,325.89 330.82,321.08 336.88,317.47 348.42,311.10 354.47,309.96 360.52,309.04 366.57,308.12 372.62,308.34 378.67,308.67 384.73,309.01 390.77,309.32 396.82,309.63 402.88,309.93 408.92,310.23 414.98,310.54 421.02,310.80" fill="none" stroke="#4fae55" stroke-width="2"/>
<path d="M278.02,415.74L282.27,423.82L273.77,423.82Z" fill="#4fae55"/>
<path d="M282.43,408.79L286.68,416.86L278.18,416.86Z" fill="#4fae55"/>
<path d="M288.47,394.82L292.72,402.89L284.22,402.89Z" fill="#4fae55"/>
<path d="M294.52,380.85L298.77,388.92L290.27,388.92Z" fill="#4fae55"/>
<path d="M300.57,367.51L304.82,375.59L296.32,375.59Z" fill="#4fae55"/>
<path d="M306.62,354.36L310.88,362.44L302.38,362.44Z" fill="#4fae55"/>
<path d="M312.68,341.35L316.93,349.43L308.43,349.43Z" fill="#4fae55"/>
<path d="M318.73,331.20L322.98,339.27L314.48,339.27Z" fill="#4fae55"/>
<path d="M324.77,321.04L329.02,329.12L320.52,329.12Z" fill="#4fae55"/>
<path d="M330.82,316.24L335.07,324.31L326.57,324.31Z" fill="#4fae55"/>
<path d="M336.88,312.62L341.12,320.70L332.62,320.70Z" fill="#4fae55"/>
<path d="M348.42,306.25L352.67,314.33L344.17,314.33Z" fill="#4fae55"/>
<path d="M354.47,305.12L358.72,313.19L350.22,313.19Z" fill="#4fae55"/>
<path d="M360.52,304.20L364.77,312.27L356.27,312.27Z" fill="#4fae55"/>
<path d="M366.57,303.28L370.82,311.35L362.32,311.35Z" fill="#4fae55"/>
<path d="M372.62,303.50L376.88,311.57L368.38,311.57Z" fill="#4fae55"/>
<path d="M378.67,303.83L382.92,311.90L374.42,311.90Z" fill="#4fae55"/>
<path d="M384.73,304.16L388.98,312.24L380.48,312.24Z" fill="#4fae55"/>
<path d="M390.77,304.48L395.02,312.55L386.52,312.55Z" fill="#4fae55"/>
<path d="M396.82,304.78L401.07,312.86L392.57,312.86Z" fill="#4fae55"/>
<path d="M402.88,305.08L407.12,313.16L398.62,313.16Z" fill="#4fae55"/>
<path d="M408.92,305.39L413.17,313.46L404.67,313.46Z" fill="#4fae55"/>
<path d="M414.98,305.69L419.23,313.77L410.73,313.77Z" fill="#4fae55"/>
<path d="M421.02,305.95L425.27,314.03L416.77,314.03Z" fill="#4fae55"/>
<polyline points="278.02,421.74 282.43,419.10 288.47,414.92 294.52,410.20 300.57,406.99 306.62,404.01 312.68,401.67 318.73,399.68 324.77,397.69 330.82,396.70 336.88,395.87 348.42,394.15 354.47,393.53 360.52,392.92 366.57,392.31 372.62,391.70 378.67,391.14 384.73,390.65 390.77,390.16 396.82,389.67 402.88,389.17 408.92,388.68 414.98,388.19 421.02,387.73" fill="none" stroke="#6a74b8" stroke-width="2"/>
<rect x="273.77" y="417.49" width="8.50" height="8.50" fill="#6a74b8"/>
<rect x="278.18" y="414.85" width="8.50" height="8.50" fill="#6a74b8"/>
<rect x="284.22" y="410.67" width="8.50" height="8.50" fill="#6a74b8"/>
<rect x="290.27" y="405.95" width="8.50" height="8.50" fill="#6a74b8"/>
<rect x="296.32" y="402.74" width="8.50" height="8.50" fill="#6a74b8"/>
<rect x="302.38" y="399.76" width="8.50" height="8.50" fill="#6a74b8"/>
<rect x="308.43" y="397.42" width="8.50" height="8.50" fill="#6a74b8"/>
<rect x="314.48" y="395.43" width="8.50" height="8.50" fill="#6a74b8"/>
<rect x="320.52" y="393.44" width="8.50" height="8.50" fill="#6a74b8"/>
<rect x="326.57" y="392.45" width="8.50" height="8.50" fill="#6a74b8"/>
<rect x="332.62" y="391.62" width="8.50" height="8.50" fill="#6a74b8"/>
<rect x="344.17" y="389.90" width="8.50" height="8.50" fill="#6a74b8"/>
<rect x="350.22" y="389.28" width="8.50" height="8.50" fill="#6a74b8"/>
<rect x="356.27" y="388.67" width="8.50" height="8.50" fill="#6a74b8"/>
<rect x="362.32" y="388.06" width="8.50" height="8.50" fill="#6a74b8"/>
<rect x="368.38" y="387.45" width="8.50" height="8.50" fill="#6a74b8"/>
<rect x="374.42" y="386.89" width="8.50" height="8.50" fill="#6a74b8"/>
<rect x="380.48" y="386.40" width="8.50" height="8.50" fill="#6a74b8"/>
<rect x="386.52" y="385.91" width="8.50" height="8.50" fill="#6a74b8"/>
<rect x="392.57" y="385.42" width="8.50" height="8.50" fill="#6a74b8"/>
<rect x="398.62" y="384.92" width="8.50" height="8.50" fill="#6a74b8"/>
<rect x="404.67" y="384.43" width="8.50" height="8.50" fill="#6a74b8"/>
<rect x="410.73" y="383.94" width="8.50" height="8.50" fill="#6a74b8"/>
<rect x="416.77" y="383.48" width="8.50" height="8.50" fill="#6a74b8"/>
<polyline points="278.02,420.59 282.43,420.59 288.47,420.59 294.52,420.59 300.57,420.59 306.62,420.59 312.68,420.59 318.73,420.59 324.77,420.59 330.82,420.59 336.88,420.59 348.42,420.59 354.47,420.59 360.52,420.59 366.57,420.59 372.62,420.59 378.67,420.59 384.73,420.59 390.77,420.59 396.82,420.59 402.88,420.59 408.92,420.59 414.98,420.59 421.02,420.59" fill="none" stroke="#66c4ec" stroke-width="2"/>
<circle cx="278.02" cy="420.59" r="5.25" fill="#66c4ec"/>
<circle cx="282.43" cy="420.59" r="5.25" fill="#66c4ec"/>
<circle cx="288.47" cy="420.59" r="5.25" fill="#66c4ec"/>
<circle cx="294.52" cy="420.59" r="5.25" fill="#66c4ec"/>
<circle cx="300.57" cy="420.59" r="5.25" fill="#66c4ec"/>
<circle cx="306.62" cy="420.59" r="5.25" fill="#66c4ec"/>
<circle cx="312.68" cy="420.59" r="5.25" fill="#66c4ec"/>
<circle cx="318.73" cy="420.59" r="5.25" fill="#66c4ec"/>
<circle cx="324.77" cy="420.59" r="5.25" fill="#66c4ec"/>
<circle cx="330.82" cy="420.59" r="5.25" fill="#66c4ec"/>
<circle cx="336.88" cy="420.59" r="5.25" fill="#66c4ec"/>
<circle cx="348.42" cy="420.59" r="5.25" fill="#66c4ec"/>
<circle cx="354.47" cy="420.59" r="5.25" fill="#66c4ec"/>
<circle cx="360.52" cy="420.59" r="5.25" fill="#66c4ec"/>
<circle cx="366.57" cy="420.59" r="5.25" fill="#66c4ec"/>
<circle cx="372.62" cy="420.59" r="5.25" fill="#66c4ec"/>
<circle cx="378.67" cy="420.59" r="5.25" fill="#66c4ec"/>
<circle cx="384.73" cy="420.59" r="5.25" fill="#66c4ec"/>
<circle cx="390.77" cy="420.59" r="5.25" fill="#66c4ec"/>
<circle cx="396.82" cy="420.59" r="5.25" fill="#66c4ec"/>
<circle cx="402.88" cy="420.59" r="5.25" fill="#66c4ec"/>
<circle cx="408.92" cy="420.59" r="5.25" fill="#66c4ec"/>
<circle cx="414.98" cy="420.59" r="5.25" fill="#66c4ec"/>
<circle cx="421.02" cy="420.59" r="5.25" fill="#66c4ec"/>
<polyline points="278.02,420.59 282.43,420.59 288.47,420.59 294.52,420.59 300.57,420.59 306.62,420.59 312.68,420.59 318.73,420.59 324.77,420.59 330.82,420.59 336.88,420.59 348.42,420.59 354.47,420.59 360.52,420.59 366.57,420.59 372.62,420.59 378.67,420.59 384.73,420.59 390.77,420.59 396.82,420.59 402.88,420.59 408.92,420.59 414.98,420.59 421.02,420.59" fill="none" stroke="#76777a" stroke-width="2"/>
<circle cx="278.02" cy="420.59" r="4.50" fill="#76777a"/>
<circle cx="282.43" cy="420.59" r="4.50" fill="#76777a"/>
<circle cx="288.47" cy="420.59" r="4.50" fill="#76777a"/>
<circle cx="294.52" cy="420.59" r="4.50" fill="#76777a"/>
<circle cx="300.57" cy="420.59" r="4.50" fill="#76777a"/>
<circle cx="306.62" cy="420.59" r="4.50" fill="#76777a"/>
<circle cx="312.68" cy="420.59" r="4.50" fill="#76777a"/>
<circle cx="318.73" cy="420.59" r="4.50" fill="#76777a"/>
<circle cx="324.77" cy="420.59" r="4.50" fill="#76777a"/>
<circle cx="330.82" cy="420.59" r="4.50" fill="#76777a"/>
<circle cx="336.88" cy="420.59" r="4.50" fill="#76777a"/>
<circle cx="348.42" cy="420.59" r="4.50" fill="#76777a"/>
<circle cx="354.47" cy="420.59" r="4.50" fill="#76777a"/>
<circle cx="360.52" cy="420.59" r="4.50" fill="#76777a"/>
<circle cx="366.57" cy="420.59" r="4.50" fill="#76777a"/>
<circle cx="372.62" cy="420.59" r="4.50" fill="#76777a"/>
<circle cx="378.67" cy="420.59" r="4.50" fill="#76777a"/>
<circle cx="384.73" cy="420.59" r="4.50" fill="#76777a"/>
<circle cx="390.77" cy="420.59" r="4.50" fill="#76777a"/>
<circle cx="396.82" cy="420.59" r="4.50" fill="#76777a"/>
<circle cx="402.88" cy="420.59" r="4.50" fill="#76777a"/>
<circle cx="408.92" cy="420.59" r="4.50" fill="#76777a"/>
<circle cx="414.98" cy="420.59" r="4.50" fill="#76777a"/>
<circle cx="421.02" cy="420.59" r="4.50" fill="#76777a"/>
</g>
<path d="M277.2,260.0 H442.2 V425.0 H277.2 Z" fill="none" stroke="#000" stroke-width="1.7"/>
<line x1="272.2" y1="425.00" x2="277.2" y2="425.00" stroke="#000" stroke-width="1.5"/>
<text x="270.40" y="431.30" font-size="14" text-anchor="end" fill="#231f20" >0</text>
<line x1="272.2" y1="397.42" x2="277.2" y2="397.42" stroke="#000" stroke-width="1.5"/>
<text x="270.40" y="403.72" font-size="14" text-anchor="end" fill="#231f20" >5</text>
<line x1="272.2" y1="369.83" x2="277.2" y2="369.83" stroke="#000" stroke-width="1.5"/>
<text x="270.40" y="376.13" font-size="14" text-anchor="end" fill="#231f20" >10</text>
<line x1="272.2" y1="342.25" x2="277.2" y2="342.25" stroke="#000" stroke-width="1.5"/>
<text x="270.40" y="348.55" font-size="14" text-anchor="end" fill="#231f20" >15</text>
<line x1="272.2" y1="314.66" x2="277.2" y2="314.66" stroke="#000" stroke-width="1.5"/>
<text x="270.40" y="320.96" font-size="14" text-anchor="end" fill="#231f20" >20</text>
<line x1="272.2" y1="287.07" x2="277.2" y2="287.07" stroke="#000" stroke-width="1.5"/>
<text x="270.40" y="293.38" font-size="14" text-anchor="end" fill="#231f20" >25</text>
<line x1="272.2" y1="259.49" x2="277.2" y2="259.49" stroke="#000" stroke-width="1.5"/>
<text x="270.40" y="265.79" font-size="14" text-anchor="end" fill="#231f20" >30</text>
<line x1="277.20" y1="425.0" x2="277.20" y2="429.5" stroke="#000" stroke-width="1.5"/>
<text x="276.90" y="444.60" font-size="13.5" text-anchor="middle" fill="#231f20" >0</text>
<line x1="304.70" y1="425.0" x2="304.70" y2="429.5" stroke="#000" stroke-width="1.5"/>
<text x="304.40" y="444.60" font-size="13.5" text-anchor="middle" fill="#231f20" >10</text>
<line x1="332.20" y1="425.0" x2="332.20" y2="429.5" stroke="#000" stroke-width="1.5"/>
<text x="331.90" y="444.60" font-size="13.5" text-anchor="middle" fill="#231f20" >20</text>
<line x1="359.70" y1="425.0" x2="359.70" y2="429.5" stroke="#000" stroke-width="1.5"/>
<text x="359.40" y="444.60" font-size="13.5" text-anchor="middle" fill="#231f20" >30</text>
<line x1="387.20" y1="425.0" x2="387.20" y2="429.5" stroke="#000" stroke-width="1.5"/>
<text x="386.90" y="444.60" font-size="13.5" text-anchor="middle" fill="#231f20" >40</text>
<line x1="414.70" y1="425.0" x2="414.70" y2="429.5" stroke="#000" stroke-width="1.5"/>
<text x="414.40" y="444.60" font-size="13.5" text-anchor="middle" fill="#231f20" >50</text>
<line x1="442.20" y1="425.0" x2="442.20" y2="429.5" stroke="#000" stroke-width="1.5"/>
<text x="360.70" y="460.50" font-size="14" text-anchor="middle" fill="#231f20" >Time (min)</text>
<text x="286.00" y="281.20" font-size="16" text-anchor="start" fill="#231f20" >DHT</text>
<text transform="translate(243.9,379.2) rotate(-90)" font-size="16.5" fill="#231f20" textLength="59.5" lengthAdjust="spacingAndGlyphs">RLU x 10</text>
<text transform="translate(235.2,316.5) rotate(-90)" font-size="11.5" fill="#231f20">3</text>
<line x1="256.60" y1="474.6" x2="276.60" y2="474.6" stroke="#76777a" stroke-width="3"/>
<circle cx="266.60" cy="474.60" r="4.75" fill="#76777a"/>
<text x="285.00" y="479.50" font-size="14" text-anchor="start" fill="#231f20" >Veh</text>
<line x1="314.50" y1="474.6" x2="334.50" y2="474.6" stroke="#66c4ec" stroke-width="3"/>
<circle cx="324.50" cy="474.60" r="5.00" fill="#66c4ec"/>
<text x="340.50" y="479.50" font-size="14" text-anchor="start" fill="#231f20" >0.1nM</text>
<line x1="383.00" y1="474.6" x2="403.00" y2="474.6" stroke="#6a74b8" stroke-width="3"/>
<rect x="388.75" y="470.35" width="8.50" height="8.50" fill="#6a74b8"/>
<text x="407.70" y="479.50" font-size="14" text-anchor="start" fill="#231f20" >1nM</text>
<line x1="314.50" y1="496.4" x2="334.50" y2="496.4" stroke="#4fae55" stroke-width="3"/>
<path d="M324.50,491.27L329.00,499.82L320.00,499.82Z" fill="#4fae55"/>
<text x="340.50" y="501.30" font-size="14" text-anchor="start" fill="#231f20" >10nM</text>
<line x1="383.00" y1="496.4" x2="403.00" y2="496.4" stroke="#3456a6" stroke-width="3"/>
<rect x="388.75" y="492.15" width="8.50" height="8.50" fill="#3456a6"/>
<text x="407.70" y="501.30" font-size="14" text-anchor="start" fill="#231f20" >100nM</text>
<clipPath id="clip501"><rect x="501.3" y="248.0" width="168.99999999999994" height="177.0"/></clipPath>
<g clip-path="url(#clip501)">
<line x1="502.12" y1="394.09" x2="502.12" y2="399.85" stroke="#000" stroke-width="1.6"/>
<line x1="497.12" y1="394.09" x2="507.12" y2="394.09" stroke="#000" stroke-width="1.6"/>
<line x1="506.53" y1="382.21" x2="506.53" y2="389.30" stroke="#000" stroke-width="1.6"/>
<line x1="501.53" y1="382.21" x2="511.53" y2="382.21" stroke="#000" stroke-width="1.6"/>
<line x1="512.58" y1="365.89" x2="512.58" y2="374.80" stroke="#000" stroke-width="1.6"/>
<line x1="507.58" y1="365.89" x2="517.58" y2="365.89" stroke="#000" stroke-width="1.6"/>
<line x1="518.62" y1="342.89" x2="518.62" y2="353.62" stroke="#000" stroke-width="1.6"/>
<line x1="513.62" y1="342.89" x2="523.62" y2="342.89" stroke="#000" stroke-width="1.6"/>
<line x1="524.67" y1="324.51" x2="524.67" y2="336.64" stroke="#000" stroke-width="1.6"/>
<line x1="519.67" y1="324.51" x2="529.67" y2="324.51" stroke="#000" stroke-width="1.6"/>
<line x1="530.73" y1="310.49" x2="530.73" y2="322.60" stroke="#000" stroke-width="1.6"/>
<line x1="525.73" y1="310.49" x2="535.73" y2="310.49" stroke="#000" stroke-width="1.6"/>
<line x1="536.77" y1="300.71" x2="536.77" y2="312.79" stroke="#000" stroke-width="1.6"/>
<line x1="531.77" y1="300.71" x2="541.77" y2="300.71" stroke="#000" stroke-width="1.6"/>
<line x1="542.83" y1="293.05" x2="542.83" y2="305.11" stroke="#000" stroke-width="1.6"/>
<line x1="537.83" y1="293.05" x2="547.83" y2="293.05" stroke="#000" stroke-width="1.6"/>
<line x1="548.88" y1="289.16" x2="548.88" y2="301.20" stroke="#000" stroke-width="1.6"/>
<line x1="543.88" y1="289.16" x2="553.88" y2="289.16" stroke="#000" stroke-width="1.6"/>
<line x1="554.92" y1="286.60" x2="554.92" y2="298.61" stroke="#000" stroke-width="1.6"/>
<line x1="549.92" y1="286.60" x2="559.92" y2="286.60" stroke="#000" stroke-width="1.6"/>
<line x1="560.98" y1="285.18" x2="560.98" y2="297.17" stroke="#000" stroke-width="1.6"/>
<line x1="555.98" y1="285.18" x2="565.98" y2="285.18" stroke="#000" stroke-width="1.6"/>
<line x1="572.52" y1="283.98" x2="572.52" y2="295.93" stroke="#000" stroke-width="1.6"/>
<line x1="567.52" y1="283.98" x2="577.52" y2="283.98" stroke="#000" stroke-width="1.6"/>
<line x1="578.58" y1="283.75" x2="578.58" y2="295.67" stroke="#000" stroke-width="1.6"/>
<line x1="573.58" y1="283.75" x2="583.58" y2="283.75" stroke="#000" stroke-width="1.6"/>
<line x1="584.62" y1="283.53" x2="584.62" y2="295.43" stroke="#000" stroke-width="1.6"/>
<line x1="579.62" y1="283.53" x2="589.62" y2="283.53" stroke="#000" stroke-width="1.6"/>
<line x1="590.67" y1="283.77" x2="590.67" y2="295.65" stroke="#000" stroke-width="1.6"/>
<line x1="585.67" y1="283.77" x2="595.67" y2="283.77" stroke="#000" stroke-width="1.6"/>
<line x1="596.73" y1="284.24" x2="596.73" y2="296.09" stroke="#000" stroke-width="1.6"/>
<line x1="591.73" y1="284.24" x2="601.73" y2="284.24" stroke="#000" stroke-width="1.6"/>
<line x1="602.77" y1="284.70" x2="602.77" y2="296.53" stroke="#000" stroke-width="1.6"/>
<line x1="597.77" y1="284.70" x2="607.77" y2="284.70" stroke="#000" stroke-width="1.6"/>
<line x1="608.83" y1="285.17" x2="608.83" y2="296.98" stroke="#000" stroke-width="1.6"/>
<line x1="603.83" y1="285.17" x2="613.83" y2="285.17" stroke="#000" stroke-width="1.6"/>
<line x1="614.88" y1="285.63" x2="614.88" y2="297.42" stroke="#000" stroke-width="1.6"/>
<line x1="609.88" y1="285.63" x2="619.88" y2="285.63" stroke="#000" stroke-width="1.6"/>
<line x1="620.92" y1="286.21" x2="620.92" y2="297.97" stroke="#000" stroke-width="1.6"/>
<line x1="615.92" y1="286.21" x2="625.92" y2="286.21" stroke="#000" stroke-width="1.6"/>
<line x1="626.98" y1="286.84" x2="626.98" y2="298.58" stroke="#000" stroke-width="1.6"/>
<line x1="621.98" y1="286.84" x2="631.98" y2="286.84" stroke="#000" stroke-width="1.6"/>
<line x1="633.02" y1="287.47" x2="633.02" y2="299.18" stroke="#000" stroke-width="1.6"/>
<line x1="628.02" y1="287.47" x2="638.02" y2="287.47" stroke="#000" stroke-width="1.6"/>
<line x1="639.08" y1="288.10" x2="639.08" y2="299.79" stroke="#000" stroke-width="1.6"/>
<line x1="634.08" y1="288.10" x2="644.08" y2="288.10" stroke="#000" stroke-width="1.6"/>
<line x1="645.12" y1="288.67" x2="645.12" y2="300.34" stroke="#000" stroke-width="1.6"/>
<line x1="640.12" y1="288.67" x2="650.12" y2="288.67" stroke="#000" stroke-width="1.6"/>
<polyline points="502.12,399.85 506.53,389.30 512.58,374.80 518.62,353.62 524.67,336.64 530.73,322.60 536.77,312.79 542.83,305.11 548.88,301.20 554.92,298.61 560.98,297.17 572.52,295.93 578.58,295.67 584.62,295.43 590.67,295.65 596.73,296.09 602.77,296.53 608.83,296.98 614.88,297.42 620.92,297.97 626.98,298.58 633.02,299.18 639.08,299.79 645.12,300.34" fill="none" stroke="#000" stroke-width="2"/>
<rect x="497.88" y="395.60" width="8.50" height="8.50" fill="#000"/>
<rect x="502.28" y="385.05" width="8.50" height="8.50" fill="#000"/>
<rect x="508.33" y="370.55" width="8.50" height="8.50" fill="#000"/>
<rect x="514.38" y="349.37" width="8.50" height="8.50" fill="#000"/>
<rect x="520.42" y="332.39" width="8.50" height="8.50" fill="#000"/>
<rect x="526.48" y="318.35" width="8.50" height="8.50" fill="#000"/>
<rect x="532.52" y="308.54" width="8.50" height="8.50" fill="#000"/>
<rect x="538.58" y="300.86" width="8.50" height="8.50" fill="#000"/>
<rect x="544.62" y="296.95" width="8.50" height="8.50" fill="#000"/>
<rect x="550.67" y="294.36" width="8.50" height="8.50" fill="#000"/>
<rect x="556.73" y="292.92" width="8.50" height="8.50" fill="#000"/>
<rect x="568.27" y="291.68" width="8.50" height="8.50" fill="#000"/>
<rect x="574.33" y="291.42" width="8.50" height="8.50" fill="#000"/>
<rect x="580.38" y="291.18" width="8.50" height="8.50" fill="#000"/>
<rect x="586.42" y="291.40" width="8.50" height="8.50" fill="#000"/>
<rect x="592.48" y="291.84" width="8.50" height="8.50" fill="#000"/>
<rect x="598.52" y="292.28" width="8.50" height="8.50" fill="#000"/>
<rect x="604.58" y="292.73" width="8.50" height="8.50" fill="#000"/>
<rect x="610.62" y="293.17" width="8.50" height="8.50" fill="#000"/>
<rect x="616.67" y="293.72" width="8.50" height="8.50" fill="#000"/>
<rect x="622.73" y="294.33" width="8.50" height="8.50" fill="#000"/>
<rect x="628.77" y="294.93" width="8.50" height="8.50" fill="#000"/>
<rect x="634.83" y="295.54" width="8.50" height="8.50" fill="#000"/>
<rect x="640.88" y="296.09" width="8.50" height="8.50" fill="#000"/>
<line x1="502.12" y1="408.78" x2="502.12" y2="414.58" stroke="#5a5a5a" stroke-width="1.6"/>
<line x1="497.12" y1="414.58" x2="507.12" y2="414.58" stroke="#5a5a5a" stroke-width="1.6"/>
<line x1="497.12" y1="408.78" x2="507.12" y2="408.78" stroke="#5a5a5a" stroke-width="1.6"/>
<line x1="506.53" y1="395.81" x2="506.53" y2="403.17" stroke="#5a5a5a" stroke-width="1.6"/>
<line x1="501.53" y1="403.17" x2="511.53" y2="403.17" stroke="#5a5a5a" stroke-width="1.6"/>
<line x1="501.53" y1="395.81" x2="511.53" y2="395.81" stroke="#5a5a5a" stroke-width="1.6"/>
<line x1="512.58" y1="376.94" x2="512.58" y2="386.42" stroke="#5a5a5a" stroke-width="1.6"/>
<line x1="507.58" y1="386.42" x2="517.58" y2="386.42" stroke="#5a5a5a" stroke-width="1.6"/>
<line x1="507.58" y1="376.94" x2="517.58" y2="376.94" stroke="#5a5a5a" stroke-width="1.6"/>
<line x1="518.62" y1="360.72" x2="518.62" y2="372.32" stroke="#5a5a5a" stroke-width="1.6"/>
<line x1="513.62" y1="372.32" x2="523.62" y2="372.32" stroke="#5a5a5a" stroke-width="1.6"/>
<line x1="513.62" y1="360.72" x2="523.62" y2="360.72" stroke="#5a5a5a" stroke-width="1.6"/>
<line x1="524.67" y1="346.04" x2="524.67" y2="359.75" stroke="#5a5a5a" stroke-width="1.6"/>
<line x1="519.67" y1="359.75" x2="529.67" y2="359.75" stroke="#5a5a5a" stroke-width="1.6"/>
<line x1="519.67" y1="346.04" x2="529.67" y2="346.04" stroke="#5a5a5a" stroke-width="1.6"/>
<line x1="530.73" y1="336.60" x2="530.73" y2="352.39" stroke="#5a5a5a" stroke-width="1.6"/>
<line x1="525.73" y1="352.39" x2="535.73" y2="352.39" stroke="#5a5a5a" stroke-width="1.6"/>
<line x1="525.73" y1="336.60" x2="535.73" y2="336.60" stroke="#5a5a5a" stroke-width="1.6"/>
<line x1="536.77" y1="329.17" x2="536.77" y2="347.04" stroke="#5a5a5a" stroke-width="1.6"/>
<line x1="531.77" y1="347.04" x2="541.77" y2="347.04" stroke="#5a5a5a" stroke-width="1.6"/>
<line x1="531.77" y1="329.17" x2="541.77" y2="329.17" stroke="#5a5a5a" stroke-width="1.6"/>
<line x1="542.83" y1="322.11" x2="542.83" y2="341.97" stroke="#5a5a5a" stroke-width="1.6"/>
<line x1="537.83" y1="341.97" x2="547.83" y2="341.97" stroke="#5a5a5a" stroke-width="1.6"/>
<line x1="537.83" y1="322.11" x2="547.83" y2="322.11" stroke="#5a5a5a" stroke-width="1.6"/>
<line x1="548.88" y1="316.65" x2="548.88" y2="336.51" stroke="#5a5a5a" stroke-width="1.6"/>
<line x1="543.88" y1="336.51" x2="553.88" y2="336.51" stroke="#5a5a5a" stroke-width="1.6"/>
<line x1="543.88" y1="316.65" x2="553.88" y2="316.65" stroke="#5a5a5a" stroke-width="1.6"/>
<line x1="554.92" y1="313.28" x2="554.92" y2="333.14" stroke="#5a5a5a" stroke-width="1.6"/>
<line x1="549.92" y1="333.14" x2="559.92" y2="333.14" stroke="#5a5a5a" stroke-width="1.6"/>
<line x1="549.92" y1="313.28" x2="559.92" y2="313.28" stroke="#5a5a5a" stroke-width="1.6"/>
<line x1="560.98" y1="311.13" x2="560.98" y2="330.99" stroke="#5a5a5a" stroke-width="1.6"/>
<line x1="555.98" y1="330.99" x2="565.98" y2="330.99" stroke="#5a5a5a" stroke-width="1.6"/>
<line x1="555.98" y1="311.13" x2="565.98" y2="311.13" stroke="#5a5a5a" stroke-width="1.6"/>
<line x1="572.52" y1="308.65" x2="572.52" y2="328.51" stroke="#5a5a5a" stroke-width="1.6"/>
<line x1="567.52" y1="328.51" x2="577.52" y2="328.51" stroke="#5a5a5a" stroke-width="1.6"/>
<line x1="567.52" y1="308.65" x2="577.52" y2="308.65" stroke="#5a5a5a" stroke-width="1.6"/>
<line x1="578.58" y1="308.13" x2="578.58" y2="327.99" stroke="#5a5a5a" stroke-width="1.6"/>
<line x1="573.58" y1="327.99" x2="583.58" y2="327.99" stroke="#5a5a5a" stroke-width="1.6"/>
<line x1="573.58" y1="308.13" x2="583.58" y2="308.13" stroke="#5a5a5a" stroke-width="1.6"/>
<line x1="584.62" y1="307.64" x2="584.62" y2="327.50" stroke="#5a5a5a" stroke-width="1.6"/>
<line x1="579.62" y1="327.50" x2="589.62" y2="327.50" stroke="#5a5a5a" stroke-width="1.6"/>
<line x1="579.62" y1="307.64" x2="589.62" y2="307.64" stroke="#5a5a5a" stroke-width="1.6"/>
<line x1="590.67" y1="307.16" x2="590.67" y2="327.02" stroke="#5a5a5a" stroke-width="1.6"/>
<line x1="585.67" y1="327.02" x2="595.67" y2="327.02" stroke="#5a5a5a" stroke-width="1.6"/>
<line x1="585.67" y1="307.16" x2="595.67" y2="307.16" stroke="#5a5a5a" stroke-width="1.6"/>
<line x1="596.73" y1="306.67" x2="596.73" y2="326.53" stroke="#5a5a5a" stroke-width="1.6"/>
<line x1="591.73" y1="326.53" x2="601.73" y2="326.53" stroke="#5a5a5a" stroke-width="1.6"/>
<line x1="591.73" y1="306.67" x2="601.73" y2="306.67" stroke="#5a5a5a" stroke-width="1.6"/>
<line x1="602.77" y1="306.38" x2="602.77" y2="326.25" stroke="#5a5a5a" stroke-width="1.6"/>
<line x1="597.77" y1="326.25" x2="607.77" y2="326.25" stroke="#5a5a5a" stroke-width="1.6"/>
<line x1="597.77" y1="306.38" x2="607.77" y2="306.38" stroke="#5a5a5a" stroke-width="1.6"/>
<line x1="608.83" y1="306.38" x2="608.83" y2="326.25" stroke="#5a5a5a" stroke-width="1.6"/>
<line x1="603.83" y1="326.25" x2="613.83" y2="326.25" stroke="#5a5a5a" stroke-width="1.6"/>
<line x1="603.83" y1="306.38" x2="613.83" y2="306.38" stroke="#5a5a5a" stroke-width="1.6"/>
<line x1="614.88" y1="306.38" x2="614.88" y2="326.25" stroke="#5a5a5a" stroke-width="1.6"/>
<line x1="609.88" y1="326.25" x2="619.88" y2="326.25" stroke="#5a5a5a" stroke-width="1.6"/>
<line x1="609.88" y1="306.38" x2="619.88" y2="306.38" stroke="#5a5a5a" stroke-width="1.6"/>
<line x1="620.92" y1="306.38" x2="620.92" y2="326.25" stroke="#5a5a5a" stroke-width="1.6"/>
<line x1="615.92" y1="326.25" x2="625.92" y2="326.25" stroke="#5a5a5a" stroke-width="1.6"/>
<line x1="615.92" y1="306.38" x2="625.92" y2="306.38" stroke="#5a5a5a" stroke-width="1.6"/>
<line x1="626.98" y1="306.38" x2="626.98" y2="326.25" stroke="#5a5a5a" stroke-width="1.6"/>
<line x1="621.98" y1="326.25" x2="631.98" y2="326.25" stroke="#5a5a5a" stroke-width="1.6"/>
<line x1="621.98" y1="306.38" x2="631.98" y2="306.38" stroke="#5a5a5a" stroke-width="1.6"/>
<line x1="633.02" y1="306.38" x2="633.02" y2="326.25" stroke="#5a5a5a" stroke-width="1.6"/>
<line x1="628.02" y1="326.25" x2="638.02" y2="326.25" stroke="#5a5a5a" stroke-width="1.6"/>
<line x1="628.02" y1="306.38" x2="638.02" y2="306.38" stroke="#5a5a5a" stroke-width="1.6"/>
<line x1="639.08" y1="306.38" x2="639.08" y2="326.25" stroke="#5a5a5a" stroke-width="1.6"/>
<line x1="634.08" y1="326.25" x2="644.08" y2="326.25" stroke="#5a5a5a" stroke-width="1.6"/>
<line x1="634.08" y1="306.38" x2="644.08" y2="306.38" stroke="#5a5a5a" stroke-width="1.6"/>
<line x1="645.12" y1="306.38" x2="645.12" y2="326.25" stroke="#5a5a5a" stroke-width="1.6"/>
<line x1="640.12" y1="326.25" x2="650.12" y2="326.25" stroke="#5a5a5a" stroke-width="1.6"/>
<line x1="640.12" y1="306.38" x2="650.12" y2="306.38" stroke="#5a5a5a" stroke-width="1.6"/>
<polyline points="502.12,411.68 506.53,399.49 512.58,381.68 518.62,366.52 524.67,352.90 530.73,344.49 536.77,338.11 542.83,332.04 548.88,326.58 554.92,323.21 560.98,321.06 572.52,318.58 578.58,318.06 584.62,317.57 590.67,317.09 596.73,316.60 602.77,316.32 608.83,316.32 614.88,316.32 620.92,316.32 626.98,316.32 633.02,316.32 639.08,316.32 645.12,316.32" fill="none" stroke="#646464" stroke-width="2"/>
<circle cx="502.12" cy="411.68" r="5.50" fill="#646464"/>
<circle cx="506.53" cy="399.49" r="5.50" fill="#646464"/>
<circle cx="512.58" cy="381.68" r="5.50" fill="#646464"/>
<circle cx="518.62" cy="366.52" r="5.50" fill="#646464"/>
<circle cx="524.67" cy="352.90" r="5.50" fill="#646464"/>
<circle cx="530.73" cy="344.49" r="5.50" fill="#646464"/>
<circle cx="536.77" cy="338.11" r="5.50" fill="#646464"/>
<circle cx="542.83" cy="332.04" r="5.50" fill="#646464"/>
<circle cx="548.88" cy="326.58" r="5.50" fill="#646464"/>
<circle cx="554.92" cy="323.21" r="5.50" fill="#646464"/>
<circle cx="560.98" cy="321.06" r="5.50" fill="#646464"/>
<circle cx="572.52" cy="318.58" r="5.50" fill="#646464"/>
<circle cx="578.58" cy="318.06" r="5.50" fill="#646464"/>
<circle cx="584.62" cy="317.57" r="5.50" fill="#646464"/>
<circle cx="590.67" cy="317.09" r="5.50" fill="#646464"/>
<circle cx="596.73" cy="316.60" r="5.50" fill="#646464"/>
<circle cx="602.77" cy="316.32" r="5.50" fill="#646464"/>
<circle cx="608.83" cy="316.32" r="5.50" fill="#646464"/>
<circle cx="614.88" cy="316.32" r="5.50" fill="#646464"/>
<circle cx="620.92" cy="316.32" r="5.50" fill="#646464"/>
<circle cx="626.98" cy="316.32" r="5.50" fill="#646464"/>
<circle cx="633.02" cy="316.32" r="5.50" fill="#646464"/>
<circle cx="639.08" cy="316.32" r="5.50" fill="#646464"/>
<circle cx="645.12" cy="316.32" r="5.50" fill="#646464"/>
<polyline points="502.12,420.14 506.53,417.76 512.58,413.48 518.62,408.72 524.67,403.97 530.73,399.76 536.77,396.73 542.83,393.69 548.88,391.77 554.92,389.90 560.98,388.63 572.52,386.97 578.58,386.82 584.62,386.70 590.67,386.57 596.73,386.45 602.77,386.29 608.83,386.06 614.88,385.83 620.92,385.61 626.98,385.38 633.02,385.15 639.08,384.92 645.12,384.71" fill="none" stroke="#a9a9a9" stroke-width="2"/>
<path d="M502.12,415.14L507.12,420.14L502.12,425.14L497.12,420.14Z" fill="#a9a9a9"/>
<path d="M506.53,412.76L511.53,417.76L506.53,422.76L501.53,417.76Z" fill="#a9a9a9"/>
<path d="M512.58,408.48L517.58,413.48L512.58,418.48L507.58,413.48Z" fill="#a9a9a9"/>
<path d="M518.62,403.72L523.62,408.72L518.62,413.72L513.62,408.72Z" fill="#a9a9a9"/>
<path d="M524.67,398.97L529.67,403.97L524.67,408.97L519.67,403.97Z" fill="#a9a9a9"/>
<path d="M530.73,394.76L535.73,399.76L530.73,404.76L525.73,399.76Z" fill="#a9a9a9"/>
<path d="M536.77,391.73L541.77,396.73L536.77,401.73L531.77,396.73Z" fill="#a9a9a9"/>
<path d="M542.83,388.69L547.83,393.69L542.83,398.69L537.83,393.69Z" fill="#a9a9a9"/>
<path d="M548.88,386.77L553.88,391.77L548.88,396.77L543.88,391.77Z" fill="#a9a9a9"/>
<path d="M554.92,384.90L559.92,389.90L554.92,394.90L549.92,389.90Z" fill="#a9a9a9"/>
<path d="M560.98,383.63L565.98,388.63L560.98,393.63L555.98,388.63Z" fill="#a9a9a9"/>
<path d="M572.52,381.97L577.52,386.97L572.52,391.97L567.52,386.97Z" fill="#a9a9a9"/>
<path d="M578.58,381.82L583.58,386.82L578.58,391.82L573.58,386.82Z" fill="#a9a9a9"/>
<path d="M584.62,381.70L589.62,386.70L584.62,391.70L579.62,386.70Z" fill="#a9a9a9"/>
<path d="M590.67,381.57L595.67,386.57L590.67,391.57L585.67,386.57Z" fill="#a9a9a9"/>
<path d="M596.73,381.45L601.73,386.45L596.73,391.45L591.73,386.45Z" fill="#a9a9a9"/>
<path d="M602.77,381.29L607.77,386.29L602.77,391.29L597.77,386.29Z" fill="#a9a9a9"/>
<path d="M608.83,381.06L613.83,386.06L608.83,391.06L603.83,386.06Z" fill="#a9a9a9"/>
<path d="M614.88,380.83L619.88,385.83L614.88,390.83L609.88,385.83Z" fill="#a9a9a9"/>
<path d="M620.92,380.61L625.92,385.61L620.92,390.61L615.92,385.61Z" fill="#a9a9a9"/>
<path d="M626.98,380.38L631.98,385.38L626.98,390.38L621.98,385.38Z" fill="#a9a9a9"/>
<path d="M633.02,380.15L638.02,385.15L633.02,390.15L628.02,385.15Z" fill="#a9a9a9"/>
<path d="M639.08,379.92L644.08,384.92L639.08,389.92L634.08,384.92Z" fill="#a9a9a9"/>
<path d="M645.12,379.71L650.12,384.71L645.12,389.71L640.12,384.71Z" fill="#a9a9a9"/>
<polyline points="502.12,420.59 506.53,420.59 512.58,420.59 518.62,420.59 524.67,420.59 530.73,420.59 536.77,420.59 542.83,420.59 548.88,420.59 554.92,420.59 560.98,420.59 572.52,420.59 578.58,420.59 584.62,420.59 590.67,420.59 596.73,420.59 602.77,420.59 608.83,420.59 614.88,420.59 620.92,420.59 626.98,420.59 633.02,420.59 639.08,420.59 645.12,420.59" fill="none" stroke="#808080" stroke-width="2"/>
<circle cx="502.12" cy="420.59" r="5.00" fill="#808080"/>
<circle cx="506.53" cy="420.59" r="5.00" fill="#808080"/>
<circle cx="512.58" cy="420.59" r="5.00" fill="#808080"/>
<circle cx="518.62" cy="420.59" r="5.00" fill="#808080"/>
<circle cx="524.67" cy="420.59" r="5.00" fill="#808080"/>
<circle cx="530.73" cy="420.59" r="5.00" fill="#808080"/>
<circle cx="536.77" cy="420.59" r="5.00" fill="#808080"/>
<circle cx="542.83" cy="420.59" r="5.00" fill="#808080"/>
<circle cx="548.88" cy="420.59" r="5.00" fill="#808080"/>
<circle cx="554.92" cy="420.59" r="5.00" fill="#808080"/>
<circle cx="560.98" cy="420.59" r="5.00" fill="#808080"/>
<circle cx="572.52" cy="420.59" r="5.00" fill="#808080"/>
<circle cx="578.58" cy="420.59" r="5.00" fill="#808080"/>
<circle cx="584.62" cy="420.59" r="5.00" fill="#808080"/>
<circle cx="590.67" cy="420.59" r="5.00" fill="#808080"/>
<circle cx="596.73" cy="420.59" r="5.00" fill="#808080"/>
<circle cx="602.77" cy="420.59" r="5.00" fill="#808080"/>
<circle cx="608.83" cy="420.59" r="5.00" fill="#808080"/>
<circle cx="614.88" cy="420.59" r="5.00" fill="#808080"/>
<circle cx="620.92" cy="420.59" r="5.00" fill="#808080"/>
<circle cx="626.98" cy="420.59" r="5.00" fill="#808080"/>
<circle cx="633.02" cy="420.59" r="5.00" fill="#808080"/>
<circle cx="639.08" cy="420.59" r="5.00" fill="#808080"/>
<circle cx="645.12" cy="420.59" r="5.00" fill="#808080"/>
</g>
<path d="M501.3,260.0 H666.3 V425.0 H501.3 Z" fill="none" stroke="#000" stroke-width="1.7"/>
<line x1="496.3" y1="425.00" x2="501.3" y2="425.00" stroke="#000" stroke-width="1.5"/>
<text x="494.50" y="431.30" font-size="14" text-anchor="end" fill="#231f20" >0</text>
<line x1="496.3" y1="397.42" x2="501.3" y2="397.42" stroke="#000" stroke-width="1.5"/>
<text x="494.50" y="403.72" font-size="14" text-anchor="end" fill="#231f20" >5</text>
<line x1="496.3" y1="369.83" x2="501.3" y2="369.83" stroke="#000" stroke-width="1.5"/>
<text x="494.50" y="376.13" font-size="14" text-anchor="end" fill="#231f20" >10</text>
<line x1="496.3" y1="342.25" x2="501.3" y2="342.25" stroke="#000" stroke-width="1.5"/>
<text x="494.50" y="348.55" font-size="14" text-anchor="end" fill="#231f20" >15</text>
<line x1="496.3" y1="314.66" x2="501.3" y2="314.66" stroke="#000" stroke-width="1.5"/>
<text x="494.50" y="320.96" font-size="14" text-anchor="end" fill="#231f20" >20</text>
<line x1="496.3" y1="287.07" x2="501.3" y2="287.07" stroke="#000" stroke-width="1.5"/>
<text x="494.50" y="293.38" font-size="14" text-anchor="end" fill="#231f20" >25</text>
<line x1="496.3" y1="259.49" x2="501.3" y2="259.49" stroke="#000" stroke-width="1.5"/>
<text x="494.50" y="265.79" font-size="14" text-anchor="end" fill="#231f20" >30</text>
<line x1="501.30" y1="425.0" x2="501.30" y2="429.5" stroke="#000" stroke-width="1.5"/>
<text x="501.00" y="444.60" font-size="13.5" text-anchor="middle" fill="#231f20" >0</text>
<line x1="528.80" y1="425.0" x2="528.80" y2="429.5" stroke="#000" stroke-width="1.5"/>
<text x="528.50" y="444.60" font-size="13.5" text-anchor="middle" fill="#231f20" >10</text>
<line x1="556.30" y1="425.0" x2="556.30" y2="429.5" stroke="#000" stroke-width="1.5"/>
<text x="556.00" y="444.60" font-size="13.5" text-anchor="middle" fill="#231f20" >20</text>
<line x1="583.80" y1="425.0" x2="583.80" y2="429.5" stroke="#000" stroke-width="1.5"/>
<text x="583.50" y="444.60" font-size="13.5" text-anchor="middle" fill="#231f20" >30</text>
<line x1="611.30" y1="425.0" x2="611.30" y2="429.5" stroke="#000" stroke-width="1.5"/>
<text x="611.00" y="444.60" font-size="13.5" text-anchor="middle" fill="#231f20" >40</text>
<line x1="638.80" y1="425.0" x2="638.80" y2="429.5" stroke="#000" stroke-width="1.5"/>
<text x="638.50" y="444.60" font-size="13.5" text-anchor="middle" fill="#231f20" >50</text>
<line x1="666.30" y1="425.0" x2="666.30" y2="429.5" stroke="#000" stroke-width="1.5"/>
<text x="584.80" y="460.50" font-size="14" text-anchor="middle" fill="#231f20" >Time (min)</text>
<text x="512.30" y="281.20" font-size="16" text-anchor="start" fill="#231f20" >T</text>
<text transform="translate(468.8,379.2) rotate(-90)" font-size="16.5" fill="#231f20" textLength="59.5" lengthAdjust="spacingAndGlyphs">RLU x 10</text>
<text transform="translate(460.0,316.5) rotate(-90)" font-size="11.5" fill="#231f20">3</text>
<line x1="482.30" y1="474.6" x2="502.30" y2="474.6" stroke="#808080" stroke-width="3"/>
<circle cx="492.30" cy="474.60" r="4.75" fill="#808080"/>
<text x="508.40" y="479.50" font-size="14" text-anchor="start" fill="#231f20" >Veh</text>
<line x1="564.00" y1="474.6" x2="584.00" y2="474.6" stroke="#a9a9a9" stroke-width="3"/>
<path d="M574.00,469.10L579.50,474.60L574.00,480.10L568.50,474.60Z" fill="#a9a9a9"/>
<text x="590.10" y="479.50" font-size="14" text-anchor="start" fill="#231f20" >1nM</text>
<line x1="482.30" y1="496.4" x2="502.30" y2="496.4" stroke="#646464" stroke-width="3"/>
<circle cx="492.30" cy="496.40" r="4.75" fill="#646464"/>
<text x="508.40" y="501.30" font-size="14" text-anchor="start" fill="#231f20" >10nM</text>
<line x1="564.00" y1="496.4" x2="584.00" y2="496.4" stroke="#000" stroke-width="3"/>
<rect x="569.50" y="491.90" width="9.00" height="9.00" fill="#000"/>
<text x="590.10" y="501.30" font-size="14" text-anchor="start" fill="#231f20" >100nM</text>
</svg></body></html>
